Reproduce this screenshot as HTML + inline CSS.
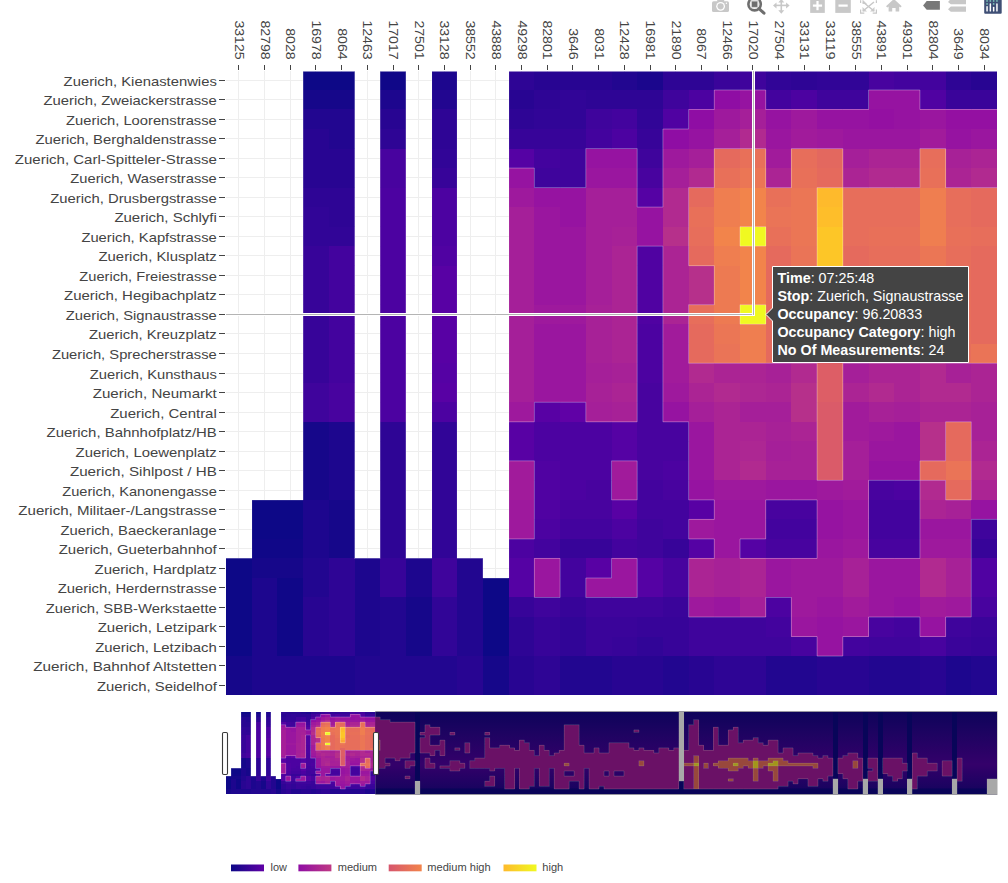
<!DOCTYPE html><html><head><meta charset="utf-8"><style>html,body{margin:0;padding:0;background:#fff;width:1008px;height:883px;overflow:hidden}svg{display:block;font-family:"Liberation Sans",sans-serif}</style></head><body>
<svg width="1008" height="883" viewBox="0 0 1008 883">
<g stroke="#eeeeee" stroke-width="1" shape-rendering="crispEdges">
<line x1="238.85" y1="71" x2="238.85" y2="694.8"/>
<line x1="264.55" y1="71" x2="264.55" y2="694.8"/>
<line x1="290.25" y1="71" x2="290.25" y2="694.8"/>
<line x1="315.95" y1="71" x2="315.95" y2="694.8"/>
<line x1="341.65" y1="71" x2="341.65" y2="694.8"/>
<line x1="367.35" y1="71" x2="367.35" y2="694.8"/>
<line x1="393.05" y1="71" x2="393.05" y2="694.8"/>
<line x1="418.75" y1="71" x2="418.75" y2="694.8"/>
<line x1="444.45" y1="71" x2="444.45" y2="694.8"/>
<line x1="470.15" y1="71" x2="470.15" y2="694.8"/>
<line x1="495.85" y1="71" x2="495.85" y2="694.8"/>
<line x1="521.55" y1="71" x2="521.55" y2="694.8"/>
<line x1="547.25" y1="71" x2="547.25" y2="694.8"/>
<line x1="572.95" y1="71" x2="572.95" y2="694.8"/>
<line x1="598.65" y1="71" x2="598.65" y2="694.8"/>
<line x1="624.35" y1="71" x2="624.35" y2="694.8"/>
<line x1="650.05" y1="71" x2="650.05" y2="694.8"/>
<line x1="675.75" y1="71" x2="675.75" y2="694.8"/>
<line x1="701.45" y1="71" x2="701.45" y2="694.8"/>
<line x1="727.15" y1="71" x2="727.15" y2="694.8"/>
<line x1="752.85" y1="71" x2="752.85" y2="694.8"/>
<line x1="778.55" y1="71" x2="778.55" y2="694.8"/>
<line x1="804.25" y1="71" x2="804.25" y2="694.8"/>
<line x1="829.95" y1="71" x2="829.95" y2="694.8"/>
<line x1="855.65" y1="71" x2="855.65" y2="694.8"/>
<line x1="881.35" y1="71" x2="881.35" y2="694.8"/>
<line x1="907.05" y1="71" x2="907.05" y2="694.8"/>
<line x1="932.75" y1="71" x2="932.75" y2="694.8"/>
<line x1="958.45" y1="71" x2="958.45" y2="694.8"/>
<line x1="984.15" y1="71" x2="984.15" y2="694.8"/>
<line x1="226.00" y1="80.21" x2="997.00" y2="80.21"/>
<line x1="226.00" y1="99.73" x2="997.00" y2="99.73"/>
<line x1="226.00" y1="119.25" x2="997.00" y2="119.25"/>
<line x1="226.00" y1="138.77" x2="997.00" y2="138.77"/>
<line x1="226.00" y1="158.29" x2="997.00" y2="158.29"/>
<line x1="226.00" y1="177.81" x2="997.00" y2="177.81"/>
<line x1="226.00" y1="197.33" x2="997.00" y2="197.33"/>
<line x1="226.00" y1="216.85" x2="997.00" y2="216.85"/>
<line x1="226.00" y1="236.37" x2="997.00" y2="236.37"/>
<line x1="226.00" y1="255.89" x2="997.00" y2="255.89"/>
<line x1="226.00" y1="275.41" x2="997.00" y2="275.41"/>
<line x1="226.00" y1="294.93" x2="997.00" y2="294.93"/>
<line x1="226.00" y1="314.45" x2="997.00" y2="314.45"/>
<line x1="226.00" y1="333.97" x2="997.00" y2="333.97"/>
<line x1="226.00" y1="353.49" x2="997.00" y2="353.49"/>
<line x1="226.00" y1="373.01" x2="997.00" y2="373.01"/>
<line x1="226.00" y1="392.53" x2="997.00" y2="392.53"/>
<line x1="226.00" y1="412.05" x2="997.00" y2="412.05"/>
<line x1="226.00" y1="431.57" x2="997.00" y2="431.57"/>
<line x1="226.00" y1="451.09" x2="997.00" y2="451.09"/>
<line x1="226.00" y1="470.61" x2="997.00" y2="470.61"/>
<line x1="226.00" y1="490.13" x2="997.00" y2="490.13"/>
<line x1="226.00" y1="509.65" x2="997.00" y2="509.65"/>
<line x1="226.00" y1="529.17" x2="997.00" y2="529.17"/>
<line x1="226.00" y1="548.69" x2="997.00" y2="548.69"/>
<line x1="226.00" y1="568.21" x2="997.00" y2="568.21"/>
<line x1="226.00" y1="587.73" x2="997.00" y2="587.73"/>
<line x1="226.00" y1="607.25" x2="997.00" y2="607.25"/>
<line x1="226.00" y1="626.77" x2="997.00" y2="626.77"/>
<line x1="226.00" y1="646.29" x2="997.00" y2="646.29"/>
<line x1="226.00" y1="665.81" x2="997.00" y2="665.81"/>
<line x1="226.00" y1="685.33" x2="997.00" y2="685.33"/>
</g>
<defs><clipPath id="pc"><rect x="226" y="71.5" width="771" height="624"/></clipPath></defs><g clip-path="url(#pc)">
<g shape-rendering="crispEdges" transform="translate(226.0,70.45) scale(25.7,19.52)">
<rect x="0" y="25" width="1" height="5" fill="#0d0887"/>
<rect x="0" y="30" width="1" height="2" fill="#16078a"/>
<rect x="1" y="22" width="1" height="2" fill="#0d0887"/>
<rect x="1" y="24" width="1" height="1" fill="#100788"/>
<rect x="1" y="25" width="1" height="1" fill="#16078a"/>
<rect x="1" y="26" width="1" height="6" fill="#1d068e"/>
<rect x="2" y="22" width="1" height="2" fill="#0d0887"/>
<rect x="2" y="24" width="1" height="1" fill="#100788"/>
<rect x="2" y="25" width="1" height="1" fill="#16078a"/>
<rect x="2" y="26" width="1" height="4" fill="#100788"/>
<rect x="2" y="30" width="1" height="2" fill="#1d068e"/>
<rect x="3" y="0" width="1" height="1" fill="#0d0887"/>
<rect x="3" y="1" width="1" height="1" fill="#16078a"/>
<rect x="3" y="2" width="1" height="1" fill="#220690"/>
<rect x="3" y="3" width="1" height="3" fill="#280592"/>
<rect x="3" y="6" width="1" height="1" fill="#2e0595"/>
<rect x="3" y="7" width="1" height="2" fill="#310597"/>
<rect x="3" y="9" width="1" height="7" fill="#370499"/>
<rect x="3" y="16" width="1" height="2" fill="#3f049c"/>
<rect x="3" y="18" width="1" height="4" fill="#16078a"/>
<rect x="3" y="22" width="1" height="3" fill="#1d068e"/>
<rect x="3" y="25" width="1" height="2" fill="#220690"/>
<rect x="3" y="27" width="1" height="3" fill="#280592"/>
<rect x="3" y="30" width="1" height="2" fill="#1d068e"/>
<rect x="4" y="0" width="1" height="1" fill="#0d0887"/>
<rect x="4" y="1" width="1" height="1" fill="#16078a"/>
<rect x="4" y="2" width="1" height="2" fill="#220690"/>
<rect x="4" y="4" width="1" height="2" fill="#280592"/>
<rect x="4" y="6" width="1" height="2" fill="#2e0595"/>
<rect x="4" y="8" width="1" height="1" fill="#310597"/>
<rect x="4" y="9" width="1" height="7" fill="#43039e"/>
<rect x="4" y="16" width="1" height="2" fill="#48039f"/>
<rect x="4" y="18" width="1" height="4" fill="#1d068e"/>
<rect x="4" y="22" width="1" height="3" fill="#16078a"/>
<rect x="4" y="25" width="1" height="5" fill="#2e0595"/>
<rect x="4" y="30" width="1" height="2" fill="#1d068e"/>
<rect x="5" y="25" width="1" height="5" fill="#1d068e"/>
<rect x="5" y="30" width="1" height="2" fill="#220690"/>
<rect x="6" y="0" width="1" height="1" fill="#100788"/>
<rect x="6" y="1" width="1" height="1" fill="#1d068e"/>
<rect x="6" y="2" width="1" height="1" fill="#280592"/>
<rect x="6" y="3" width="1" height="1" fill="#2e0595"/>
<rect x="6" y="4" width="1" height="2" fill="#48039f"/>
<rect x="6" y="6" width="1" height="12" fill="#4c02a1"/>
<rect x="6" y="18" width="1" height="7" fill="#2e0595"/>
<rect x="6" y="25" width="1" height="2" fill="#370499"/>
<rect x="6" y="27" width="1" height="5" fill="#220690"/>
<rect x="7" y="25" width="1" height="2" fill="#1d068e"/>
<rect x="7" y="27" width="1" height="3" fill="#16078a"/>
<rect x="7" y="30" width="1" height="2" fill="#220690"/>
<rect x="8" y="0" width="1" height="1" fill="#1d068e"/>
<rect x="8" y="1" width="1" height="1" fill="#220690"/>
<rect x="8" y="2" width="1" height="2" fill="#2e0595"/>
<rect x="8" y="4" width="1" height="1" fill="#310597"/>
<rect x="8" y="5" width="1" height="1" fill="#370499"/>
<rect x="8" y="6" width="1" height="3" fill="#4c02a1"/>
<rect x="8" y="9" width="1" height="1" fill="#5002a2"/>
<rect x="8" y="10" width="1" height="5" fill="#5801a4"/>
<rect x="8" y="15" width="1" height="1" fill="#5502a4"/>
<rect x="8" y="16" width="1" height="1" fill="#5801a4"/>
<rect x="8" y="17" width="1" height="1" fill="#4c02a1"/>
<rect x="8" y="18" width="1" height="7" fill="#310597"/>
<rect x="8" y="25" width="1" height="2" fill="#3f049c"/>
<rect x="8" y="27" width="1" height="3" fill="#310597"/>
<rect x="8" y="30" width="1" height="2" fill="#220690"/>
<rect x="9" y="25" width="1" height="5" fill="#220690"/>
<rect x="9" y="30" width="1" height="2" fill="#280592"/>
<rect x="10" y="26" width="1" height="4" fill="#0d0887"/>
<rect x="10" y="30" width="1" height="2" fill="#16078a"/>
<rect x="11" y="0" width="1" height="1" fill="#2e0595"/>
<rect x="11" y="1" width="1" height="1" fill="#280592"/>
<rect x="11" y="2" width="1" height="1" fill="#2e0595"/>
<rect x="11" y="3" width="1" height="1" fill="#370499"/>
<rect x="11" y="4" width="1" height="1" fill="#5502a4"/>
<rect x="11" y="5" width="1" height="1" fill="#9613a1"/>
<rect x="11" y="6" width="1" height="1" fill="#9e199d"/>
<rect x="11" y="7" width="1" height="10" fill="#a51f99"/>
<rect x="11" y="17" width="1" height="1" fill="#9e199d"/>
<rect x="11" y="18" width="1" height="2" fill="#5801a4"/>
<rect x="11" y="20" width="1" height="2" fill="#a11b9b"/>
<rect x="11" y="22" width="1" height="2" fill="#9e199d"/>
<rect x="11" y="24" width="1" height="1" fill="#4c02a1"/>
<rect x="11" y="25" width="1" height="2" fill="#5502a4"/>
<rect x="11" y="27" width="1" height="1" fill="#370499"/>
<rect x="11" y="28" width="1" height="2" fill="#2e0595"/>
<rect x="11" y="30" width="1" height="2" fill="#280592"/>
<rect x="12" y="0" width="1" height="1" fill="#280592"/>
<rect x="12" y="1" width="1" height="1" fill="#2e0595"/>
<rect x="12" y="2" width="1" height="1" fill="#310597"/>
<rect x="12" y="3" width="1" height="1" fill="#370499"/>
<rect x="12" y="4" width="1" height="1" fill="#43039e"/>
<rect x="12" y="5" width="1" height="1" fill="#3f049c"/>
<rect x="12" y="6" width="1" height="1" fill="#9613a1"/>
<rect x="12" y="7" width="1" height="5" fill="#9a169f"/>
<rect x="12" y="12" width="1" height="1" fill="#9e199d"/>
<rect x="12" y="13" width="1" height="4" fill="#9a169f"/>
<rect x="12" y="17" width="1" height="1" fill="#5801a4"/>
<rect x="12" y="18" width="1" height="2" fill="#4c02a1"/>
<rect x="12" y="20" width="1" height="3" fill="#5002a2"/>
<rect x="12" y="23" width="1" height="1" fill="#4c02a1"/>
<rect x="12" y="24" width="1" height="1" fill="#43039e"/>
<rect x="12" y="25" width="1" height="2" fill="#9a169f"/>
<rect x="12" y="27" width="1" height="1" fill="#3f049c"/>
<rect x="12" y="28" width="1" height="2" fill="#370499"/>
<rect x="12" y="30" width="1" height="2" fill="#2e0595"/>
<rect x="13" y="0" width="1" height="1" fill="#280592"/>
<rect x="13" y="1" width="1" height="2" fill="#310597"/>
<rect x="13" y="3" width="1" height="1" fill="#370499"/>
<rect x="13" y="4" width="1" height="2" fill="#3f049c"/>
<rect x="13" y="6" width="1" height="2" fill="#9613a1"/>
<rect x="13" y="8" width="1" height="4" fill="#9a169f"/>
<rect x="13" y="12" width="1" height="1" fill="#9e199d"/>
<rect x="13" y="13" width="1" height="4" fill="#9a169f"/>
<rect x="13" y="17" width="1" height="1" fill="#6001a6"/>
<rect x="13" y="18" width="1" height="4" fill="#4c02a1"/>
<rect x="13" y="22" width="1" height="1" fill="#48039f"/>
<rect x="13" y="23" width="1" height="1" fill="#43039e"/>
<rect x="13" y="24" width="1" height="1" fill="#370499"/>
<rect x="13" y="25" width="1" height="2" fill="#43039e"/>
<rect x="13" y="27" width="1" height="1" fill="#370499"/>
<rect x="13" y="28" width="1" height="2" fill="#310597"/>
<rect x="13" y="30" width="1" height="2" fill="#220690"/>
<rect x="14" y="0" width="1" height="1" fill="#280592"/>
<rect x="14" y="1" width="1" height="1" fill="#2e0595"/>
<rect x="14" y="2" width="1" height="1" fill="#3f049c"/>
<rect x="14" y="3" width="1" height="1" fill="#43039e"/>
<rect x="14" y="4" width="1" height="1" fill="#9613a1"/>
<rect x="14" y="5" width="1" height="1" fill="#9a169f"/>
<rect x="14" y="6" width="1" height="6" fill="#a51f99"/>
<rect x="14" y="12" width="1" height="3" fill="#a72197"/>
<rect x="14" y="15" width="1" height="1" fill="#a51f99"/>
<rect x="14" y="16" width="1" height="1" fill="#a72197"/>
<rect x="14" y="17" width="1" height="1" fill="#a51f99"/>
<rect x="14" y="18" width="1" height="3" fill="#4c02a1"/>
<rect x="14" y="21" width="1" height="2" fill="#48039f"/>
<rect x="14" y="23" width="1" height="1" fill="#43039e"/>
<rect x="14" y="24" width="1" height="1" fill="#370499"/>
<rect x="14" y="25" width="1" height="1" fill="#5801a4"/>
<rect x="14" y="26" width="1" height="1" fill="#9a169f"/>
<rect x="14" y="27" width="1" height="1" fill="#3f049c"/>
<rect x="14" y="28" width="1" height="2" fill="#3a049a"/>
<rect x="14" y="30" width="1" height="2" fill="#220690"/>
<rect x="15" y="0" width="1" height="1" fill="#220690"/>
<rect x="15" y="1" width="1" height="1" fill="#2e0595"/>
<rect x="15" y="2" width="1" height="1" fill="#43039e"/>
<rect x="15" y="3" width="1" height="1" fill="#4c02a1"/>
<rect x="15" y="4" width="1" height="1" fill="#9613a1"/>
<rect x="15" y="5" width="1" height="1" fill="#9a169f"/>
<rect x="15" y="6" width="1" height="2" fill="#a51f99"/>
<rect x="15" y="8" width="1" height="1" fill="#a72197"/>
<rect x="15" y="9" width="1" height="6" fill="#ab2494"/>
<rect x="15" y="15" width="1" height="1" fill="#a72197"/>
<rect x="15" y="16" width="1" height="1" fill="#ab2494"/>
<rect x="15" y="17" width="1" height="1" fill="#a72197"/>
<rect x="15" y="18" width="1" height="2" fill="#5502a4"/>
<rect x="15" y="20" width="1" height="1" fill="#a11b9b"/>
<rect x="15" y="21" width="1" height="1" fill="#9e199d"/>
<rect x="15" y="22" width="1" height="1" fill="#5801a4"/>
<rect x="15" y="23" width="1" height="1" fill="#4c02a1"/>
<rect x="15" y="24" width="1" height="1" fill="#43039e"/>
<rect x="15" y="25" width="1" height="2" fill="#9a169f"/>
<rect x="15" y="27" width="1" height="1" fill="#3f049c"/>
<rect x="15" y="28" width="1" height="1" fill="#3a049a"/>
<rect x="15" y="29" width="1" height="1" fill="#370499"/>
<rect x="15" y="30" width="1" height="2" fill="#280592"/>
<rect x="16" y="0" width="1" height="1" fill="#1b068d"/>
<rect x="16" y="1" width="1" height="1" fill="#2e0595"/>
<rect x="16" y="2" width="1" height="1" fill="#310597"/>
<rect x="16" y="3" width="1" height="1" fill="#370499"/>
<rect x="16" y="4" width="1" height="1" fill="#3f049c"/>
<rect x="16" y="5" width="1" height="1" fill="#48039f"/>
<rect x="16" y="6" width="1" height="1" fill="#5502a4"/>
<rect x="16" y="7" width="1" height="2" fill="#9613a1"/>
<rect x="16" y="9" width="1" height="4" fill="#5002a2"/>
<rect x="16" y="13" width="1" height="3" fill="#4c02a1"/>
<rect x="16" y="16" width="1" height="5" fill="#48039f"/>
<rect x="16" y="21" width="1" height="2" fill="#43039e"/>
<rect x="16" y="23" width="1" height="2" fill="#3f049c"/>
<rect x="16" y="25" width="1" height="2" fill="#5502a4"/>
<rect x="16" y="27" width="1" height="1" fill="#3f049c"/>
<rect x="16" y="28" width="1" height="1" fill="#370499"/>
<rect x="16" y="29" width="1" height="1" fill="#310597"/>
<rect x="16" y="30" width="1" height="2" fill="#280592"/>
<rect x="17" y="0" width="1" height="1" fill="#2e0595"/>
<rect x="17" y="1" width="1" height="1" fill="#3f049c"/>
<rect x="17" y="2" width="1" height="1" fill="#5002a2"/>
<rect x="17" y="3" width="1" height="1" fill="#8f0da4"/>
<rect x="17" y="4" width="1" height="1" fill="#9e199d"/>
<rect x="17" y="5" width="1" height="1" fill="#a51f99"/>
<rect x="17" y="6" width="1" height="2" fill="#b12a90"/>
<rect x="17" y="8" width="1" height="1" fill="#b6308b"/>
<rect x="17" y="9" width="1" height="4" fill="#ab2494"/>
<rect x="17" y="13" width="1" height="3" fill="#a11b9b"/>
<rect x="17" y="16" width="1" height="1" fill="#9e199d"/>
<rect x="17" y="17" width="1" height="1" fill="#9613a1"/>
<rect x="17" y="18" width="1" height="2" fill="#48039f"/>
<rect x="17" y="20" width="1" height="1" fill="#4c02a1"/>
<rect x="17" y="21" width="1" height="1" fill="#48039f"/>
<rect x="17" y="22" width="1" height="2" fill="#43039e"/>
<rect x="17" y="24" width="1" height="1" fill="#370499"/>
<rect x="17" y="25" width="1" height="2" fill="#48039f"/>
<rect x="17" y="27" width="1" height="1" fill="#3a049a"/>
<rect x="17" y="28" width="1" height="2" fill="#370499"/>
<rect x="17" y="30" width="1" height="2" fill="#220690"/>
<rect x="18" y="0" width="1" height="1" fill="#2e0595"/>
<rect x="18" y="1" width="1" height="1" fill="#4c02a1"/>
<rect x="18" y="2" width="1" height="1" fill="#8f0da4"/>
<rect x="18" y="3" width="1" height="1" fill="#9613a1"/>
<rect x="18" y="4" width="1" height="1" fill="#a51f99"/>
<rect x="18" y="5" width="1" height="1" fill="#b12a90"/>
<rect x="18" y="6" width="1" height="1" fill="#e56a5d"/>
<rect x="18" y="7" width="1" height="1" fill="#e87059"/>
<rect x="18" y="8" width="1" height="1" fill="#e76e5b"/>
<rect x="18" y="9" width="1" height="1" fill="#e56a5d"/>
<rect x="18" y="10" width="1" height="2" fill="#b6308b"/>
<rect x="18" y="12" width="1" height="1" fill="#e76e5b"/>
<rect x="18" y="13" width="1" height="2" fill="#e56a5d"/>
<rect x="18" y="15" width="1" height="1" fill="#b12a90"/>
<rect x="18" y="16" width="1" height="1" fill="#ab2494"/>
<rect x="18" y="17" width="1" height="1" fill="#a51f99"/>
<rect x="18" y="18" width="1" height="3" fill="#9a169f"/>
<rect x="18" y="21" width="1" height="1" fill="#9613a1"/>
<rect x="18" y="22" width="1" height="1" fill="#5801a4"/>
<rect x="18" y="23" width="1" height="1" fill="#9e199d"/>
<rect x="18" y="24" width="1" height="1" fill="#5502a4"/>
<rect x="18" y="25" width="1" height="2" fill="#ab2494"/>
<rect x="18" y="27" width="1" height="1" fill="#9e199d"/>
<rect x="18" y="28" width="1" height="2" fill="#3f049c"/>
<rect x="18" y="30" width="1" height="2" fill="#280592"/>
<rect x="19" y="0" width="1" height="1" fill="#3a049a"/>
<rect x="19" y="1" width="1" height="1" fill="#8f0da4"/>
<rect x="19" y="2" width="1" height="1" fill="#9e199d"/>
<rect x="19" y="3" width="1" height="1" fill="#a51f99"/>
<rect x="19" y="4" width="1" height="1" fill="#e56a5d"/>
<rect x="19" y="5" width="1" height="1" fill="#e87059"/>
<rect x="19" y="6" width="1" height="2" fill="#ef7e50"/>
<rect x="19" y="8" width="1" height="1" fill="#f2844b"/>
<rect x="19" y="9" width="1" height="1" fill="#ef7e50"/>
<rect x="19" y="10" width="1" height="3" fill="#ed7a52"/>
<rect x="19" y="13" width="1" height="1" fill="#eb7655"/>
<rect x="19" y="14" width="1" height="1" fill="#ea7457"/>
<rect x="19" y="15" width="1" height="1" fill="#ab2494"/>
<rect x="19" y="16" width="1" height="1" fill="#b12a90"/>
<rect x="19" y="17" width="1" height="4" fill="#ab2494"/>
<rect x="19" y="21" width="1" height="1" fill="#9e199d"/>
<rect x="19" y="22" width="1" height="3" fill="#9a169f"/>
<rect x="19" y="25" width="1" height="2" fill="#a72197"/>
<rect x="19" y="27" width="1" height="1" fill="#9a169f"/>
<rect x="19" y="28" width="1" height="2" fill="#3f049c"/>
<rect x="19" y="30" width="1" height="2" fill="#2e0595"/>
<rect x="20" y="0" width="1" height="1" fill="#3f049c"/>
<rect x="20" y="1" width="1" height="1" fill="#9613a1"/>
<rect x="20" y="2" width="1" height="1" fill="#a51f99"/>
<rect x="20" y="3" width="1" height="1" fill="#b12a90"/>
<rect x="20" y="4" width="1" height="1" fill="#e87059"/>
<rect x="20" y="5" width="1" height="1" fill="#eb7655"/>
<rect x="20" y="6" width="1" height="2" fill="#f2844b"/>
<rect x="20" y="8" width="1" height="1" fill="#f0f921"/>
<rect x="20" y="9" width="1" height="3" fill="#f2844b"/>
<rect x="20" y="12" width="1" height="1" fill="#f0f921"/>
<rect x="20" y="13" width="1" height="2" fill="#ef7e50"/>
<rect x="20" y="15" width="1" height="1" fill="#ab2494"/>
<rect x="20" y="16" width="1" height="1" fill="#ad2793"/>
<rect x="20" y="17" width="1" height="1" fill="#a51f99"/>
<rect x="20" y="18" width="1" height="1" fill="#ab2494"/>
<rect x="20" y="19" width="1" height="1" fill="#ad2793"/>
<rect x="20" y="20" width="1" height="1" fill="#b12a90"/>
<rect x="20" y="21" width="1" height="1" fill="#9e199d"/>
<rect x="20" y="22" width="1" height="2" fill="#9a169f"/>
<rect x="20" y="24" width="1" height="1" fill="#5502a4"/>
<rect x="20" y="25" width="1" height="2" fill="#ab2494"/>
<rect x="20" y="27" width="1" height="1" fill="#a51f99"/>
<rect x="20" y="28" width="1" height="2" fill="#3f049c"/>
<rect x="20" y="30" width="1" height="2" fill="#2e0595"/>
<rect x="21" y="0" width="1" height="1" fill="#310597"/>
<rect x="21" y="1" width="1" height="1" fill="#43039e"/>
<rect x="21" y="2" width="1" height="1" fill="#9613a1"/>
<rect x="21" y="3" width="1" height="1" fill="#9a169f"/>
<rect x="21" y="4" width="1" height="1" fill="#a11b9b"/>
<rect x="21" y="5" width="1" height="1" fill="#ab2494"/>
<rect x="21" y="6" width="1" height="1" fill="#e87059"/>
<rect x="21" y="7" width="1" height="1" fill="#ea7457"/>
<rect x="21" y="8" width="1" height="1" fill="#e87059"/>
<rect x="21" y="9" width="1" height="6" fill="#e56a5d"/>
<rect x="21" y="15" width="1" height="1" fill="#a72197"/>
<rect x="21" y="16" width="1" height="1" fill="#ab2494"/>
<rect x="21" y="17" width="1" height="1" fill="#a51f99"/>
<rect x="21" y="18" width="1" height="1" fill="#a72197"/>
<rect x="21" y="19" width="1" height="1" fill="#a51f99"/>
<rect x="21" y="20" width="1" height="1" fill="#a72197"/>
<rect x="21" y="21" width="1" height="1" fill="#9a169f"/>
<rect x="21" y="22" width="1" height="1" fill="#48039f"/>
<rect x="21" y="23" width="1" height="1" fill="#43039e"/>
<rect x="21" y="24" width="1" height="1" fill="#48039f"/>
<rect x="21" y="25" width="1" height="2" fill="#9a169f"/>
<rect x="21" y="27" width="1" height="1" fill="#4c02a1"/>
<rect x="21" y="28" width="1" height="1" fill="#43039e"/>
<rect x="21" y="29" width="1" height="1" fill="#3f049c"/>
<rect x="21" y="30" width="1" height="2" fill="#220690"/>
<rect x="22" y="0" width="1" height="1" fill="#2e0595"/>
<rect x="22" y="1" width="1" height="1" fill="#4c02a1"/>
<rect x="22" y="2" width="1" height="1" fill="#9e199d"/>
<rect x="22" y="3" width="1" height="1" fill="#a11b9b"/>
<rect x="22" y="4" width="1" height="1" fill="#e76e5b"/>
<rect x="22" y="5" width="1" height="1" fill="#e87059"/>
<rect x="22" y="6" width="1" height="3" fill="#eb7655"/>
<rect x="22" y="9" width="1" height="1" fill="#ea7457"/>
<rect x="22" y="10" width="1" height="5" fill="#e87059"/>
<rect x="22" y="15" width="1" height="1" fill="#b12a90"/>
<rect x="22" y="16" width="1" height="2" fill="#b6308b"/>
<rect x="22" y="18" width="1" height="1" fill="#ab2494"/>
<rect x="22" y="19" width="1" height="2" fill="#a72197"/>
<rect x="22" y="21" width="1" height="1" fill="#9a169f"/>
<rect x="22" y="22" width="1" height="1" fill="#48039f"/>
<rect x="22" y="23" width="1" height="1" fill="#43039e"/>
<rect x="22" y="24" width="1" height="1" fill="#48039f"/>
<rect x="22" y="25" width="1" height="3" fill="#9e199d"/>
<rect x="22" y="28" width="1" height="1" fill="#9a169f"/>
<rect x="22" y="29" width="1" height="1" fill="#48039f"/>
<rect x="22" y="30" width="1" height="2" fill="#220690"/>
<rect x="23" y="0" width="1" height="1" fill="#310597"/>
<rect x="23" y="1" width="1" height="1" fill="#3f049c"/>
<rect x="23" y="2" width="1" height="1" fill="#9613a1"/>
<rect x="23" y="3" width="1" height="1" fill="#9e199d"/>
<rect x="23" y="4" width="1" height="1" fill="#e3685f"/>
<rect x="23" y="5" width="1" height="1" fill="#e56a5d"/>
<rect x="23" y="6" width="1" height="1" fill="#feba2c"/>
<rect x="23" y="7" width="1" height="1" fill="#febe2a"/>
<rect x="23" y="8" width="1" height="2" fill="#fdc627"/>
<rect x="23" y="10" width="1" height="1" fill="#feb72d"/>
<rect x="23" y="11" width="1" height="1" fill="#fca636"/>
<rect x="23" y="12" width="1" height="1" fill="#eb7655"/>
<rect x="23" y="13" width="1" height="1" fill="#e87059"/>
<rect x="23" y="14" width="1" height="1" fill="#e16462"/>
<rect x="23" y="15" width="1" height="2" fill="#dd5e66"/>
<rect x="23" y="17" width="1" height="4" fill="#da5b69"/>
<rect x="23" y="21" width="1" height="1" fill="#9e199d"/>
<rect x="23" y="22" width="1" height="2" fill="#9613a1"/>
<rect x="23" y="24" width="1" height="1" fill="#9a169f"/>
<rect x="23" y="25" width="1" height="2" fill="#9e199d"/>
<rect x="23" y="27" width="1" height="1" fill="#9a169f"/>
<rect x="23" y="28" width="1" height="2" fill="#9613a1"/>
<rect x="23" y="30" width="1" height="2" fill="#280592"/>
<rect x="24" y="0" width="1" height="1" fill="#310597"/>
<rect x="24" y="1" width="1" height="1" fill="#3f049c"/>
<rect x="24" y="2" width="1" height="1" fill="#9613a1"/>
<rect x="24" y="3" width="1" height="1" fill="#9a169f"/>
<rect x="24" y="4" width="1" height="1" fill="#a51f99"/>
<rect x="24" y="5" width="1" height="1" fill="#ab2494"/>
<rect x="24" y="6" width="1" height="3" fill="#e76e5b"/>
<rect x="24" y="9" width="1" height="1" fill="#e56a5d"/>
<rect x="24" y="10" width="1" height="5" fill="#e76e5b"/>
<rect x="24" y="15" width="1" height="1" fill="#a51f99"/>
<rect x="24" y="16" width="1" height="1" fill="#ab2494"/>
<rect x="24" y="17" width="1" height="2" fill="#a11b9b"/>
<rect x="24" y="19" width="1" height="2" fill="#a51f99"/>
<rect x="24" y="21" width="1" height="1" fill="#a11b9b"/>
<rect x="24" y="22" width="1" height="2" fill="#9a169f"/>
<rect x="24" y="24" width="1" height="1" fill="#9e199d"/>
<rect x="24" y="25" width="1" height="2" fill="#a72197"/>
<rect x="24" y="27" width="1" height="1" fill="#a11b9b"/>
<rect x="24" y="28" width="1" height="1" fill="#9a169f"/>
<rect x="24" y="29" width="1" height="1" fill="#43039e"/>
<rect x="24" y="30" width="1" height="2" fill="#280592"/>
<rect x="25" y="0" width="1" height="1" fill="#48039f"/>
<rect x="25" y="1" width="1" height="1" fill="#9613a1"/>
<rect x="25" y="2" width="1" height="1" fill="#9410a2"/>
<rect x="25" y="3" width="1" height="1" fill="#9a169f"/>
<rect x="25" y="4" width="1" height="1" fill="#ab2494"/>
<rect x="25" y="5" width="1" height="1" fill="#b12a90"/>
<rect x="25" y="6" width="1" height="2" fill="#e76e5b"/>
<rect x="25" y="8" width="1" height="1" fill="#e87059"/>
<rect x="25" y="9" width="1" height="6" fill="#e76e5b"/>
<rect x="25" y="15" width="1" height="1" fill="#ab2494"/>
<rect x="25" y="16" width="1" height="1" fill="#b12a90"/>
<rect x="25" y="17" width="1" height="1" fill="#a72197"/>
<rect x="25" y="18" width="1" height="1" fill="#9e199d"/>
<rect x="25" y="19" width="1" height="1" fill="#9a169f"/>
<rect x="25" y="20" width="1" height="1" fill="#9613a1"/>
<rect x="25" y="21" width="1" height="1" fill="#48039f"/>
<rect x="25" y="22" width="1" height="2" fill="#43039e"/>
<rect x="25" y="24" width="1" height="1" fill="#48039f"/>
<rect x="25" y="25" width="1" height="3" fill="#9a169f"/>
<rect x="25" y="28" width="1" height="1" fill="#48039f"/>
<rect x="25" y="29" width="1" height="1" fill="#3f049c"/>
<rect x="25" y="30" width="1" height="2" fill="#220690"/>
<rect x="26" y="0" width="1" height="1" fill="#43039e"/>
<rect x="26" y="1" width="1" height="2" fill="#9613a1"/>
<rect x="26" y="3" width="1" height="1" fill="#9a169f"/>
<rect x="26" y="4" width="1" height="1" fill="#ab2494"/>
<rect x="26" y="5" width="1" height="1" fill="#b12a90"/>
<rect x="26" y="6" width="1" height="2" fill="#e76e5b"/>
<rect x="26" y="8" width="1" height="1" fill="#e87059"/>
<rect x="26" y="9" width="1" height="6" fill="#e76e5b"/>
<rect x="26" y="15" width="1" height="2" fill="#ab2494"/>
<rect x="26" y="17" width="1" height="1" fill="#a51f99"/>
<rect x="26" y="18" width="1" height="2" fill="#9a169f"/>
<rect x="26" y="20" width="1" height="1" fill="#9613a1"/>
<rect x="26" y="21" width="1" height="1" fill="#4c02a1"/>
<rect x="26" y="22" width="1" height="2" fill="#43039e"/>
<rect x="26" y="24" width="1" height="1" fill="#48039f"/>
<rect x="26" y="25" width="1" height="2" fill="#9a169f"/>
<rect x="26" y="27" width="1" height="1" fill="#9613a1"/>
<rect x="26" y="28" width="1" height="1" fill="#43039e"/>
<rect x="26" y="29" width="1" height="1" fill="#3f049c"/>
<rect x="26" y="30" width="1" height="2" fill="#220690"/>
<rect x="27" y="0" width="1" height="1" fill="#43039e"/>
<rect x="27" y="1" width="1" height="1" fill="#5002a2"/>
<rect x="27" y="2" width="1" height="1" fill="#9a169f"/>
<rect x="27" y="3" width="1" height="1" fill="#a11b9b"/>
<rect x="27" y="4" width="1" height="1" fill="#e76e5b"/>
<rect x="27" y="5" width="1" height="1" fill="#e87059"/>
<rect x="27" y="6" width="1" height="3" fill="#ef7e50"/>
<rect x="27" y="9" width="1" height="6" fill="#eb7655"/>
<rect x="27" y="15" width="1" height="2" fill="#b12a90"/>
<rect x="27" y="17" width="1" height="1" fill="#ab2494"/>
<rect x="27" y="18" width="1" height="2" fill="#b6308b"/>
<rect x="27" y="20" width="1" height="1" fill="#e56a5d"/>
<rect x="27" y="21" width="1" height="1" fill="#b12a90"/>
<rect x="27" y="22" width="1" height="1" fill="#ab2494"/>
<rect x="27" y="23" width="1" height="1" fill="#9a169f"/>
<rect x="27" y="24" width="1" height="1" fill="#9e199d"/>
<rect x="27" y="25" width="1" height="2" fill="#b12a90"/>
<rect x="27" y="27" width="1" height="1" fill="#a11b9b"/>
<rect x="27" y="28" width="1" height="1" fill="#9613a1"/>
<rect x="27" y="29" width="1" height="1" fill="#48039f"/>
<rect x="27" y="30" width="1" height="2" fill="#280592"/>
<rect x="28" y="0" width="1" height="1" fill="#2e0595"/>
<rect x="28" y="1" width="1" height="1" fill="#3a049a"/>
<rect x="28" y="2" width="1" height="1" fill="#9410a2"/>
<rect x="28" y="3" width="1" height="1" fill="#9613a1"/>
<rect x="28" y="4" width="1" height="1" fill="#a72197"/>
<rect x="28" y="5" width="1" height="1" fill="#ab2494"/>
<rect x="28" y="6" width="1" height="2" fill="#e76e5b"/>
<rect x="28" y="8" width="1" height="1" fill="#e87059"/>
<rect x="28" y="9" width="1" height="6" fill="#e76e5b"/>
<rect x="28" y="15" width="1" height="1" fill="#a72197"/>
<rect x="28" y="16" width="1" height="1" fill="#b12a90"/>
<rect x="28" y="17" width="1" height="1" fill="#ab2494"/>
<rect x="28" y="18" width="1" height="2" fill="#e56a5d"/>
<rect x="28" y="20" width="1" height="1" fill="#ea7457"/>
<rect x="28" y="21" width="1" height="1" fill="#e56a5d"/>
<rect x="28" y="22" width="1" height="1" fill="#a72197"/>
<rect x="28" y="23" width="1" height="1" fill="#9a169f"/>
<rect x="28" y="24" width="1" height="1" fill="#9e199d"/>
<rect x="28" y="25" width="1" height="2" fill="#a72197"/>
<rect x="28" y="27" width="1" height="1" fill="#9e199d"/>
<rect x="28" y="28" width="1" height="1" fill="#3f049c"/>
<rect x="28" y="29" width="1" height="1" fill="#3a049a"/>
<rect x="28" y="30" width="1" height="2" fill="#1d068e"/>
<rect x="29" y="0" width="1" height="1" fill="#280592"/>
<rect x="29" y="1" width="1" height="1" fill="#3a049a"/>
<rect x="29" y="2" width="1" height="1" fill="#9410a2"/>
<rect x="29" y="3" width="1" height="1" fill="#9a169f"/>
<rect x="29" y="4" width="1" height="1" fill="#ab2494"/>
<rect x="29" y="5" width="1" height="1" fill="#b12a90"/>
<rect x="29" y="6" width="1" height="2" fill="#e56a5d"/>
<rect x="29" y="8" width="1" height="1" fill="#e76e5b"/>
<rect x="29" y="9" width="1" height="5" fill="#e56a5d"/>
<rect x="29" y="14" width="1" height="1" fill="#ea7457"/>
<rect x="29" y="15" width="1" height="2" fill="#ab2494"/>
<rect x="29" y="17" width="1" height="2" fill="#a72197"/>
<rect x="29" y="19" width="1" height="1" fill="#ab2494"/>
<rect x="29" y="20" width="1" height="1" fill="#b12a90"/>
<rect x="29" y="21" width="1" height="1" fill="#ab2494"/>
<rect x="29" y="22" width="1" height="1" fill="#9613a1"/>
<rect x="29" y="23" width="1" height="1" fill="#3f049c"/>
<rect x="29" y="24" width="1" height="1" fill="#370499"/>
<rect x="29" y="25" width="1" height="2" fill="#5002a2"/>
<rect x="29" y="27" width="1" height="1" fill="#48039f"/>
<rect x="29" y="28" width="1" height="1" fill="#3a049a"/>
<rect x="29" y="29" width="1" height="1" fill="#370499"/>
<rect x="29" y="30" width="1" height="2" fill="#220690"/>
</g>
<path d="M303.10,70.45V89.97M354.50,70.45V89.97M380.20,70.45V89.97M405.90,70.45V89.97M431.60,70.45V89.97M457.30,70.45V89.97M508.70,70.45V89.97M714.30,89.97H740.00M740.00,89.97H765.70M868.50,89.97H894.20M894.20,89.97H919.90M303.10,89.97V109.49M354.50,89.97V109.49M380.20,89.97V109.49M405.90,89.97V109.49M431.60,89.97V109.49M457.30,89.97V109.49M508.70,89.97V109.49M714.30,89.97V109.49M688.60,109.49H714.30M765.70,89.97V109.49M765.70,109.49H791.40M791.40,109.49H817.10M817.10,109.49H842.80M868.50,89.97V109.49M842.80,109.49H868.50M919.90,89.97V109.49M919.90,109.49H945.60M945.60,109.49H971.30M971.30,109.49H997.00M303.10,109.49V129.01M354.50,109.49V129.01M380.20,109.49V129.01M405.90,109.49V129.01M431.60,109.49V129.01M457.30,109.49V129.01M508.70,109.49V129.01M688.60,109.49V129.01M662.90,129.01H688.60M303.10,129.01V148.53M354.50,129.01V148.53M380.20,129.01V148.53M405.90,129.01V148.53M431.60,129.01V148.53M457.30,129.01V148.53M508.70,129.01V148.53M585.80,148.53H611.50M611.50,148.53H637.20M662.90,129.01V148.53M714.30,148.53H740.00M740.00,148.53H765.70M791.40,148.53H817.10M817.10,148.53H842.80M919.90,148.53H945.60M303.10,148.53V168.05M354.50,148.53V168.05M380.20,148.53V168.05M405.90,148.53V168.05M431.60,148.53V168.05M457.30,148.53V168.05M508.70,148.53V168.05M508.70,168.05H534.40M585.80,148.53V168.05M637.20,148.53V168.05M662.90,148.53V168.05M714.30,148.53V168.05M765.70,148.53V168.05M791.40,148.53V168.05M842.80,148.53V168.05M919.90,148.53V168.05M945.60,148.53V168.05M303.10,168.05V187.57M354.50,168.05V187.57M380.20,168.05V187.57M405.90,168.05V187.57M431.60,168.05V187.57M457.30,168.05V187.57M508.70,168.05V187.57M534.40,168.05V187.57M534.40,187.57H560.10M585.80,168.05V187.57M560.10,187.57H585.80M637.20,168.05V187.57M662.90,168.05V187.57M714.30,168.05V187.57M688.60,187.57H714.30M765.70,168.05V187.57M791.40,168.05V187.57M765.70,187.57H791.40M842.80,168.05V187.57M817.10,187.57H842.80M842.80,187.57H868.50M868.50,187.57H894.20M919.90,168.05V187.57M894.20,187.57H919.90M945.60,168.05V187.57M945.60,187.57H971.30M971.30,187.57H997.00M303.10,187.57V207.09M354.50,187.57V207.09M380.20,187.57V207.09M405.90,187.57V207.09M431.60,187.57V207.09M457.30,187.57V207.09M508.70,187.57V207.09M637.20,187.57V207.09M662.90,187.57V207.09M637.20,207.09H662.90M688.60,187.57V207.09M817.10,187.57V207.09M842.80,187.57V207.09M303.10,207.09V226.61M354.50,207.09V226.61M380.20,207.09V226.61M405.90,207.09V226.61M431.60,207.09V226.61M457.30,207.09V226.61M508.70,207.09V226.61M688.60,207.09V226.61M740.00,226.61H765.70M817.10,207.09V226.61M842.80,207.09V226.61M303.10,226.61V246.13M354.50,226.61V246.13M380.20,226.61V246.13M405.90,226.61V246.13M431.60,226.61V246.13M457.30,226.61V246.13M508.70,226.61V246.13M637.20,246.13H662.90M688.60,226.61V246.13M740.00,226.61V246.13M765.70,226.61V246.13M740.00,246.13H765.70M817.10,226.61V246.13M842.80,226.61V246.13M303.10,246.13V265.65M354.50,246.13V265.65M380.20,246.13V265.65M405.90,246.13V265.65M431.60,246.13V265.65M457.30,246.13V265.65M508.70,246.13V265.65M637.20,246.13V265.65M662.90,246.13V265.65M688.60,246.13V265.65M688.60,265.65H714.30M817.10,246.13V265.65M842.80,246.13V265.65M303.10,265.65V285.17M354.50,265.65V285.17M380.20,265.65V285.17M405.90,265.65V285.17M431.60,265.65V285.17M457.30,265.65V285.17M508.70,265.65V285.17M637.20,265.65V285.17M662.90,265.65V285.17M714.30,265.65V285.17M817.10,265.65V285.17M842.80,265.65V285.17M303.10,285.17V304.69M354.50,285.17V304.69M380.20,285.17V304.69M405.90,285.17V304.69M431.60,285.17V304.69M457.30,285.17V304.69M508.70,285.17V304.69M637.20,285.17V304.69M662.90,285.17V304.69M714.30,285.17V304.69M688.60,304.69H714.30M740.00,304.69H765.70M817.10,285.17V304.69M842.80,285.17V304.69M817.10,304.69H842.80M303.10,304.69V324.21M354.50,304.69V324.21M380.20,304.69V324.21M405.90,304.69V324.21M431.60,304.69V324.21M457.30,304.69V324.21M508.70,304.69V324.21M637.20,304.69V324.21M662.90,304.69V324.21M688.60,304.69V324.21M740.00,304.69V324.21M765.70,304.69V324.21M740.00,324.21H765.70M303.10,324.21V343.73M354.50,324.21V343.73M380.20,324.21V343.73M405.90,324.21V343.73M431.60,324.21V343.73M457.30,324.21V343.73M508.70,324.21V343.73M637.20,324.21V343.73M662.90,324.21V343.73M688.60,324.21V343.73M303.10,343.73V363.25M354.50,343.73V363.25M380.20,343.73V363.25M405.90,343.73V363.25M431.60,343.73V363.25M457.30,343.73V363.25M508.70,343.73V363.25M637.20,343.73V363.25M662.90,343.73V363.25M688.60,343.73V363.25M688.60,363.25H714.30M714.30,363.25H740.00M740.00,363.25H765.70M765.70,363.25H791.40M791.40,363.25H817.10M842.80,363.25H868.50M868.50,363.25H894.20M894.20,363.25H919.90M919.90,363.25H945.60M945.60,363.25H971.30M971.30,363.25H997.00M303.10,363.25V382.77M354.50,363.25V382.77M380.20,363.25V382.77M405.90,363.25V382.77M431.60,363.25V382.77M457.30,363.25V382.77M508.70,363.25V382.77M637.20,363.25V382.77M662.90,363.25V382.77M817.10,363.25V382.77M842.80,363.25V382.77M303.10,382.77V402.29M354.50,382.77V402.29M380.20,382.77V402.29M405.90,382.77V402.29M431.60,382.77V402.29M457.30,382.77V402.29M508.70,382.77V402.29M534.40,402.29H560.10M560.10,402.29H585.80M637.20,382.77V402.29M662.90,382.77V402.29M817.10,382.77V402.29M842.80,382.77V402.29M303.10,402.29V421.81M354.50,402.29V421.81M380.20,402.29V421.81M405.90,402.29V421.81M431.60,402.29V421.81M457.30,402.29V421.81M508.70,402.29V421.81M534.40,402.29V421.81M508.70,421.81H534.40M585.80,402.29V421.81M585.80,421.81H611.50M637.20,402.29V421.81M611.50,421.81H637.20M662.90,402.29V421.81M662.90,421.81H688.60M817.10,402.29V421.81M842.80,402.29V421.81M945.60,421.81H971.30M303.10,421.81V441.33M354.50,421.81V441.33M380.20,421.81V441.33M405.90,421.81V441.33M431.60,421.81V441.33M457.30,421.81V441.33M508.70,421.81V441.33M688.60,421.81V441.33M817.10,421.81V441.33M842.80,421.81V441.33M945.60,421.81V441.33M971.30,421.81V441.33M303.10,441.33V460.85M354.50,441.33V460.85M380.20,441.33V460.85M405.90,441.33V460.85M431.60,441.33V460.85M457.30,441.33V460.85M508.70,441.33V460.85M508.70,460.85H534.40M611.50,460.85H637.20M688.60,441.33V460.85M817.10,441.33V460.85M842.80,441.33V460.85M945.60,441.33V460.85M919.90,460.85H945.60M971.30,441.33V460.85M303.10,460.85V480.37M354.50,460.85V480.37M380.20,460.85V480.37M405.90,460.85V480.37M431.60,460.85V480.37M457.30,460.85V480.37M508.70,460.85V480.37M534.40,460.85V480.37M611.50,460.85V480.37M637.20,460.85V480.37M688.60,460.85V480.37M817.10,460.85V480.37M842.80,460.85V480.37M817.10,480.37H842.80M868.50,480.37H894.20M919.90,460.85V480.37M894.20,480.37H919.90M919.90,480.37H945.60M971.30,460.85V480.37M251.70,499.89H277.40M303.10,480.37V499.89M277.40,499.89H303.10M354.50,480.37V499.89M380.20,480.37V499.89M405.90,480.37V499.89M431.60,480.37V499.89M457.30,480.37V499.89M508.70,480.37V499.89M534.40,480.37V499.89M611.50,480.37V499.89M637.20,480.37V499.89M611.50,499.89H637.20M688.60,480.37V499.89M688.60,499.89H714.30M765.70,499.89H791.40M791.40,499.89H817.10M868.50,480.37V499.89M919.90,480.37V499.89M945.60,480.37V499.89M971.30,480.37V499.89M945.60,499.89H971.30M251.70,499.89V519.41M354.50,499.89V519.41M380.20,499.89V519.41M405.90,499.89V519.41M431.60,499.89V519.41M457.30,499.89V519.41M508.70,499.89V519.41M534.40,499.89V519.41M714.30,499.89V519.41M688.60,519.41H714.30M765.70,499.89V519.41M817.10,499.89V519.41M868.50,499.89V519.41M919.90,499.89V519.41M971.30,519.41H997.00M251.70,519.41V538.93M354.50,519.41V538.93M380.20,519.41V538.93M405.90,519.41V538.93M431.60,519.41V538.93M457.30,519.41V538.93M508.70,519.41V538.93M534.40,519.41V538.93M508.70,538.93H534.40M688.60,519.41V538.93M688.60,538.93H714.30M765.70,519.41V538.93M740.00,538.93H765.70M817.10,519.41V538.93M868.50,519.41V538.93M919.90,519.41V538.93M971.30,519.41V538.93M251.70,538.93V558.45M226.00,558.45H251.70M354.50,538.93V558.45M380.20,538.93V558.45M354.50,558.45H380.20M405.90,538.93V558.45M431.60,538.93V558.45M405.90,558.45H431.60M457.30,538.93V558.45M457.30,558.45H483.00M508.70,538.93V558.45M534.40,558.45H560.10M611.50,558.45H637.20M714.30,538.93V558.45M688.60,558.45H714.30M740.00,538.93V558.45M740.00,558.45H765.70M765.70,558.45H791.40M817.10,538.93V558.45M791.40,558.45H817.10M868.50,538.93V558.45M868.50,558.45H894.20M919.90,538.93V558.45M894.20,558.45H919.90M971.30,538.93V558.45M483.00,558.45V577.97M508.70,558.45V577.97M483.00,577.97H508.70M534.40,558.45V577.97M560.10,558.45V577.97M611.50,558.45V577.97M585.80,577.97H611.50M637.20,558.45V577.97M688.60,558.45V577.97M971.30,558.45V577.97M534.40,577.97V597.49M560.10,577.97V597.49M534.40,597.49H560.10M585.80,577.97V597.49M585.80,597.49H611.50M637.20,577.97V597.49M611.50,597.49H637.20M688.60,577.97V597.49M765.70,597.49H791.40M971.30,577.97V597.49M688.60,597.49V617.01M688.60,617.01H714.30M714.30,617.01H740.00M765.70,597.49V617.01M740.00,617.01H765.70M791.40,597.49V617.01M868.50,617.01H894.20M894.20,617.01H919.90M971.30,597.49V617.01M945.60,617.01H971.30M791.40,617.01V636.53M791.40,636.53H817.10M868.50,617.01V636.53M842.80,636.53H868.50M919.90,617.01V636.53M945.60,617.01V636.53M919.90,636.53H945.60M817.10,636.53V656.05M842.80,636.53V656.05M817.10,656.05H842.80" fill="none" stroke="#fff" stroke-opacity="0.3" stroke-width="1"/>
</g>
<g stroke="#444" stroke-width="1" shape-rendering="crispEdges">
<line x1="219" y1="80.50" x2="225" y2="80.50"/>
<line x1="219" y1="99.50" x2="225" y2="99.50"/>
<line x1="219" y1="119.50" x2="225" y2="119.50"/>
<line x1="219" y1="138.50" x2="225" y2="138.50"/>
<line x1="219" y1="158.50" x2="225" y2="158.50"/>
<line x1="219" y1="177.50" x2="225" y2="177.50"/>
<line x1="219" y1="197.50" x2="225" y2="197.50"/>
<line x1="219" y1="216.50" x2="225" y2="216.50"/>
<line x1="219" y1="236.50" x2="225" y2="236.50"/>
<line x1="219" y1="255.50" x2="225" y2="255.50"/>
<line x1="219" y1="275.50" x2="225" y2="275.50"/>
<line x1="219" y1="294.50" x2="225" y2="294.50"/>
<line x1="219" y1="314.50" x2="225" y2="314.50"/>
<line x1="219" y1="333.50" x2="225" y2="333.50"/>
<line x1="219" y1="353.50" x2="225" y2="353.50"/>
<line x1="219" y1="373.50" x2="225" y2="373.50"/>
<line x1="219" y1="392.50" x2="225" y2="392.50"/>
<line x1="219" y1="412.50" x2="225" y2="412.50"/>
<line x1="219" y1="431.50" x2="225" y2="431.50"/>
<line x1="219" y1="451.50" x2="225" y2="451.50"/>
<line x1="219" y1="470.50" x2="225" y2="470.50"/>
<line x1="219" y1="490.50" x2="225" y2="490.50"/>
<line x1="219" y1="509.50" x2="225" y2="509.50"/>
<line x1="219" y1="529.50" x2="225" y2="529.50"/>
<line x1="219" y1="548.50" x2="225" y2="548.50"/>
<line x1="219" y1="568.50" x2="225" y2="568.50"/>
<line x1="219" y1="587.50" x2="225" y2="587.50"/>
<line x1="219" y1="607.50" x2="225" y2="607.50"/>
<line x1="219" y1="626.50" x2="225" y2="626.50"/>
<line x1="219" y1="646.50" x2="225" y2="646.50"/>
<line x1="219" y1="665.50" x2="225" y2="665.50"/>
<line x1="219" y1="685.50" x2="225" y2="685.50"/>
<line x1="238.50" y1="65" x2="238.50" y2="70"/>
<line x1="264.50" y1="65" x2="264.50" y2="70"/>
<line x1="290.50" y1="65" x2="290.50" y2="70"/>
<line x1="315.50" y1="65" x2="315.50" y2="70"/>
<line x1="341.50" y1="65" x2="341.50" y2="70"/>
<line x1="367.50" y1="65" x2="367.50" y2="70"/>
<line x1="393.50" y1="65" x2="393.50" y2="70"/>
<line x1="418.50" y1="65" x2="418.50" y2="70"/>
<line x1="444.50" y1="65" x2="444.50" y2="70"/>
<line x1="470.50" y1="65" x2="470.50" y2="70"/>
<line x1="495.50" y1="65" x2="495.50" y2="70"/>
<line x1="521.50" y1="65" x2="521.50" y2="70"/>
<line x1="547.50" y1="65" x2="547.50" y2="70"/>
<line x1="572.50" y1="65" x2="572.50" y2="70"/>
<line x1="598.50" y1="65" x2="598.50" y2="70"/>
<line x1="624.50" y1="65" x2="624.50" y2="70"/>
<line x1="650.50" y1="65" x2="650.50" y2="70"/>
<line x1="675.50" y1="65" x2="675.50" y2="70"/>
<line x1="701.50" y1="65" x2="701.50" y2="70"/>
<line x1="727.50" y1="65" x2="727.50" y2="70"/>
<line x1="752.50" y1="65" x2="752.50" y2="70"/>
<line x1="778.50" y1="65" x2="778.50" y2="70"/>
<line x1="804.50" y1="65" x2="804.50" y2="70"/>
<line x1="829.50" y1="65" x2="829.50" y2="70"/>
<line x1="855.50" y1="65" x2="855.50" y2="70"/>
<line x1="881.50" y1="65" x2="881.50" y2="70"/>
<line x1="907.50" y1="65" x2="907.50" y2="70"/>
<line x1="932.50" y1="65" x2="932.50" y2="70"/>
<line x1="958.50" y1="65" x2="958.50" y2="70"/>
<line x1="984.50" y1="65" x2="984.50" y2="70"/>
</g>
<g fill="#444" font-size="13">
<text x="216.8" y="85.71" text-anchor="end" textLength="153.2" lengthAdjust="spacingAndGlyphs">Zuerich, Kienastenwies</text>
<text x="216.8" y="105.23" text-anchor="end" textLength="173.4" lengthAdjust="spacingAndGlyphs">Zuerich, Zweiackerstrasse</text>
<text x="216.8" y="124.75" text-anchor="end" textLength="150.7" lengthAdjust="spacingAndGlyphs">Zuerich, Loorenstrasse</text>
<text x="216.8" y="144.27" text-anchor="end" textLength="181.4" lengthAdjust="spacingAndGlyphs">Zuerich, Berghaldenstrasse</text>
<text x="216.8" y="163.79" text-anchor="end" textLength="202.0" lengthAdjust="spacingAndGlyphs">Zuerich, Carl-Spitteler-Strasse</text>
<text x="216.8" y="183.31" text-anchor="end" textLength="146.5" lengthAdjust="spacingAndGlyphs">Zuerich, Waserstrasse</text>
<text x="216.8" y="202.83" text-anchor="end" textLength="166.6" lengthAdjust="spacingAndGlyphs">Zuerich, Drusbergstrasse</text>
<text x="216.8" y="222.35" text-anchor="end" textLength="102.4" lengthAdjust="spacingAndGlyphs">Zuerich, Schlyfi</text>
<text x="216.8" y="241.87" text-anchor="end" textLength="135.4" lengthAdjust="spacingAndGlyphs">Zuerich, Kapfstrasse</text>
<text x="216.8" y="261.39" text-anchor="end" textLength="118.3" lengthAdjust="spacingAndGlyphs">Zuerich, Klusplatz</text>
<text x="216.8" y="280.91" text-anchor="end" textLength="137.5" lengthAdjust="spacingAndGlyphs">Zuerich, Freiestrasse</text>
<text x="216.8" y="300.43" text-anchor="end" textLength="152.8" lengthAdjust="spacingAndGlyphs">Zuerich, Hegibachplatz</text>
<text x="216.8" y="319.95" text-anchor="end" textLength="151.0" lengthAdjust="spacingAndGlyphs">Zuerich, Signaustrasse</text>
<text x="216.8" y="339.47" text-anchor="end" textLength="127.9" lengthAdjust="spacingAndGlyphs">Zuerich, Kreuzplatz</text>
<text x="216.8" y="358.99" text-anchor="end" textLength="164.9" lengthAdjust="spacingAndGlyphs">Zuerich, Sprecherstrasse</text>
<text x="216.8" y="378.51" text-anchor="end" textLength="127.0" lengthAdjust="spacingAndGlyphs">Zuerich, Kunsthaus</text>
<text x="216.8" y="398.03" text-anchor="end" textLength="124.1" lengthAdjust="spacingAndGlyphs">Zuerich, Neumarkt</text>
<text x="216.8" y="417.55" text-anchor="end" textLength="106.6" lengthAdjust="spacingAndGlyphs">Zuerich, Central</text>
<text x="216.8" y="437.07" text-anchor="end" textLength="170.2" lengthAdjust="spacingAndGlyphs">Zuerich, Bahnhofplatz/HB</text>
<text x="216.8" y="456.59" text-anchor="end" textLength="141.2" lengthAdjust="spacingAndGlyphs">Zuerich, Loewenplatz</text>
<text x="216.8" y="476.11" text-anchor="end" textLength="146.9" lengthAdjust="spacingAndGlyphs">Zuerich, Sihlpost / HB</text>
<text x="216.8" y="495.63" text-anchor="end" textLength="154.5" lengthAdjust="spacingAndGlyphs">Zuerich, Kanonengasse</text>
<text x="216.8" y="515.15" text-anchor="end" textLength="198.5" lengthAdjust="spacingAndGlyphs">Zuerich, Militaer-/Langstrasse</text>
<text x="216.8" y="534.67" text-anchor="end" textLength="156.3" lengthAdjust="spacingAndGlyphs">Zuerich, Baeckeranlage</text>
<text x="216.8" y="554.19" text-anchor="end" textLength="158.1" lengthAdjust="spacingAndGlyphs">Zuerich, Gueterbahnhof</text>
<text x="216.8" y="573.71" text-anchor="end" textLength="122.3" lengthAdjust="spacingAndGlyphs">Zuerich, Hardplatz</text>
<text x="216.8" y="593.23" text-anchor="end" textLength="159.1" lengthAdjust="spacingAndGlyphs">Zuerich, Herdernstrasse</text>
<text x="216.8" y="612.75" text-anchor="end" textLength="171.1" lengthAdjust="spacingAndGlyphs">Zuerich, SBB-Werkstaette</text>
<text x="216.8" y="632.27" text-anchor="end" textLength="119.1" lengthAdjust="spacingAndGlyphs">Zuerich, Letzipark</text>
<text x="216.8" y="651.79" text-anchor="end" textLength="121.6" lengthAdjust="spacingAndGlyphs">Zuerich, Letzibach</text>
<text x="216.8" y="671.31" text-anchor="end" textLength="183.6" lengthAdjust="spacingAndGlyphs">Zuerich, Bahnhof Altstetten</text>
<text x="216.8" y="690.83" text-anchor="end" textLength="119.9" lengthAdjust="spacingAndGlyphs">Zuerich, Seidelhof</text>
<text x="0" y="0" font-size="12.5" transform="translate(234.85,59.6) rotate(90)" text-anchor="end" textLength="39.2" lengthAdjust="spacingAndGlyphs">33125</text>
<text x="0" y="0" font-size="12.5" transform="translate(260.55,59.6) rotate(90)" text-anchor="end" textLength="39.2" lengthAdjust="spacingAndGlyphs">82798</text>
<text x="0" y="0" font-size="12.5" transform="translate(286.25,59.6) rotate(90)" text-anchor="end" textLength="31.4" lengthAdjust="spacingAndGlyphs">8028</text>
<text x="0" y="0" font-size="12.5" transform="translate(311.95,59.6) rotate(90)" text-anchor="end" textLength="39.2" lengthAdjust="spacingAndGlyphs">16978</text>
<text x="0" y="0" font-size="12.5" transform="translate(337.65,59.6) rotate(90)" text-anchor="end" textLength="31.4" lengthAdjust="spacingAndGlyphs">8064</text>
<text x="0" y="0" font-size="12.5" transform="translate(363.35,59.6) rotate(90)" text-anchor="end" textLength="39.2" lengthAdjust="spacingAndGlyphs">12463</text>
<text x="0" y="0" font-size="12.5" transform="translate(389.05,59.6) rotate(90)" text-anchor="end" textLength="39.2" lengthAdjust="spacingAndGlyphs">17017</text>
<text x="0" y="0" font-size="12.5" transform="translate(414.75,59.6) rotate(90)" text-anchor="end" textLength="39.2" lengthAdjust="spacingAndGlyphs">27501</text>
<text x="0" y="0" font-size="12.5" transform="translate(440.45,59.6) rotate(90)" text-anchor="end" textLength="39.2" lengthAdjust="spacingAndGlyphs">33128</text>
<text x="0" y="0" font-size="12.5" transform="translate(466.15,59.6) rotate(90)" text-anchor="end" textLength="39.2" lengthAdjust="spacingAndGlyphs">38552</text>
<text x="0" y="0" font-size="12.5" transform="translate(491.85,59.6) rotate(90)" text-anchor="end" textLength="39.2" lengthAdjust="spacingAndGlyphs">43888</text>
<text x="0" y="0" font-size="12.5" transform="translate(517.55,59.6) rotate(90)" text-anchor="end" textLength="39.2" lengthAdjust="spacingAndGlyphs">49298</text>
<text x="0" y="0" font-size="12.5" transform="translate(543.25,59.6) rotate(90)" text-anchor="end" textLength="39.2" lengthAdjust="spacingAndGlyphs">82801</text>
<text x="0" y="0" font-size="12.5" transform="translate(568.95,59.6) rotate(90)" text-anchor="end" textLength="31.4" lengthAdjust="spacingAndGlyphs">3646</text>
<text x="0" y="0" font-size="12.5" transform="translate(594.65,59.6) rotate(90)" text-anchor="end" textLength="31.4" lengthAdjust="spacingAndGlyphs">8031</text>
<text x="0" y="0" font-size="12.5" transform="translate(620.35,59.6) rotate(90)" text-anchor="end" textLength="39.2" lengthAdjust="spacingAndGlyphs">12428</text>
<text x="0" y="0" font-size="12.5" transform="translate(646.05,59.6) rotate(90)" text-anchor="end" textLength="39.2" lengthAdjust="spacingAndGlyphs">16981</text>
<text x="0" y="0" font-size="12.5" transform="translate(671.75,59.6) rotate(90)" text-anchor="end" textLength="39.2" lengthAdjust="spacingAndGlyphs">21890</text>
<text x="0" y="0" font-size="12.5" transform="translate(697.45,59.6) rotate(90)" text-anchor="end" textLength="31.4" lengthAdjust="spacingAndGlyphs">8067</text>
<text x="0" y="0" font-size="12.5" transform="translate(723.15,59.6) rotate(90)" text-anchor="end" textLength="39.2" lengthAdjust="spacingAndGlyphs">12466</text>
<text x="0" y="0" font-size="12.5" transform="translate(748.85,59.6) rotate(90)" text-anchor="end" textLength="39.2" lengthAdjust="spacingAndGlyphs">17020</text>
<text x="0" y="0" font-size="12.5" transform="translate(774.55,59.6) rotate(90)" text-anchor="end" textLength="39.2" lengthAdjust="spacingAndGlyphs">27504</text>
<text x="0" y="0" font-size="12.5" transform="translate(800.25,59.6) rotate(90)" text-anchor="end" textLength="39.2" lengthAdjust="spacingAndGlyphs">33131</text>
<text x="0" y="0" font-size="12.5" transform="translate(825.95,59.6) rotate(90)" text-anchor="end" textLength="39.2" lengthAdjust="spacingAndGlyphs">33119</text>
<text x="0" y="0" font-size="12.5" transform="translate(851.65,59.6) rotate(90)" text-anchor="end" textLength="39.2" lengthAdjust="spacingAndGlyphs">38555</text>
<text x="0" y="0" font-size="12.5" transform="translate(877.35,59.6) rotate(90)" text-anchor="end" textLength="39.2" lengthAdjust="spacingAndGlyphs">43891</text>
<text x="0" y="0" font-size="12.5" transform="translate(903.05,59.6) rotate(90)" text-anchor="end" textLength="39.2" lengthAdjust="spacingAndGlyphs">49301</text>
<text x="0" y="0" font-size="12.5" transform="translate(928.75,59.6) rotate(90)" text-anchor="end" textLength="39.2" lengthAdjust="spacingAndGlyphs">82804</text>
<text x="0" y="0" font-size="12.5" transform="translate(954.45,59.6) rotate(90)" text-anchor="end" textLength="31.4" lengthAdjust="spacingAndGlyphs">3649</text>
<text x="0" y="0" font-size="12.5" transform="translate(980.15,59.6) rotate(90)" text-anchor="end" textLength="31.4" lengthAdjust="spacingAndGlyphs">8034</text>
</g>
<g shape-rendering="crispEdges">
<rect x="226" y="312.8" width="528.6" height="3.1" fill="#fff"/>
<rect x="226" y="313.8" width="527.6" height="1.1" fill="#b4b4b4"/>
<rect x="751.9" y="71.3" width="3.1" height="244.5" fill="#fff"/>
<rect x="752.9" y="71.3" width="1.1" height="243.5" fill="#b4b4b4"/>
</g>
<path d="M766,314.5 L772.5,308 V266.5 H968.5 V362.5 H772.5 V321 Z" fill="#444" stroke="#fff" stroke-width="1"/>
<g fill="#fff" font-size="14.3">
<text x="777.5" y="282.90"><tspan font-weight="bold">Time</tspan>: 07:25:48</text>
<text x="777.5" y="301.00"><tspan font-weight="bold">Stop</tspan>: Zuerich, Signaustrasse</text>
<text x="777.5" y="319.10"><tspan font-weight="bold">Occupancy</tspan>: 96.20833</text>
<text x="777.5" y="337.20"><tspan font-weight="bold">Occupancy Category</tspan>: high</text>
<text x="777.5" y="355.30"><tspan font-weight="bold">No Of Measurements</tspan>: 24</text>
</g>
<g shape-rendering="crispEdges" transform="translate(226.0,711.9) scale(4.974193548387097,2.56875)">
<rect x="0" y="25" width="1" height="5" fill="#0d0887"/>
<rect x="0" y="30" width="1" height="2" fill="#16078a"/>
<rect x="1" y="22" width="1" height="2" fill="#0d0887"/>
<rect x="1" y="24" width="1" height="1" fill="#100788"/>
<rect x="1" y="25" width="1" height="1" fill="#16078a"/>
<rect x="1" y="26" width="1" height="6" fill="#1d068e"/>
<rect x="2" y="22" width="1" height="2" fill="#0d0887"/>
<rect x="2" y="24" width="1" height="1" fill="#100788"/>
<rect x="2" y="25" width="1" height="1" fill="#16078a"/>
<rect x="2" y="26" width="1" height="4" fill="#100788"/>
<rect x="2" y="30" width="1" height="2" fill="#1d068e"/>
<rect x="3" y="0" width="1" height="1" fill="#0d0887"/>
<rect x="3" y="1" width="1" height="1" fill="#16078a"/>
<rect x="3" y="2" width="1" height="1" fill="#220690"/>
<rect x="3" y="3" width="1" height="3" fill="#280592"/>
<rect x="3" y="6" width="1" height="1" fill="#2e0595"/>
<rect x="3" y="7" width="1" height="2" fill="#310597"/>
<rect x="3" y="9" width="1" height="7" fill="#370499"/>
<rect x="3" y="16" width="1" height="2" fill="#3f049c"/>
<rect x="3" y="18" width="1" height="4" fill="#16078a"/>
<rect x="3" y="22" width="1" height="3" fill="#1d068e"/>
<rect x="3" y="25" width="1" height="2" fill="#220690"/>
<rect x="3" y="27" width="1" height="3" fill="#280592"/>
<rect x="3" y="30" width="1" height="2" fill="#1d068e"/>
<rect x="4" y="0" width="1" height="1" fill="#0d0887"/>
<rect x="4" y="1" width="1" height="1" fill="#16078a"/>
<rect x="4" y="2" width="1" height="2" fill="#220690"/>
<rect x="4" y="4" width="1" height="2" fill="#280592"/>
<rect x="4" y="6" width="1" height="2" fill="#2e0595"/>
<rect x="4" y="8" width="1" height="1" fill="#310597"/>
<rect x="4" y="9" width="1" height="7" fill="#43039e"/>
<rect x="4" y="16" width="1" height="2" fill="#48039f"/>
<rect x="4" y="18" width="1" height="4" fill="#1d068e"/>
<rect x="4" y="22" width="1" height="3" fill="#16078a"/>
<rect x="4" y="25" width="1" height="5" fill="#2e0595"/>
<rect x="4" y="30" width="1" height="2" fill="#1d068e"/>
<rect x="5" y="25" width="1" height="5" fill="#1d068e"/>
<rect x="5" y="30" width="1" height="2" fill="#220690"/>
<rect x="6" y="0" width="1" height="1" fill="#100788"/>
<rect x="6" y="1" width="1" height="1" fill="#1d068e"/>
<rect x="6" y="2" width="1" height="1" fill="#280592"/>
<rect x="6" y="3" width="1" height="1" fill="#2e0595"/>
<rect x="6" y="4" width="1" height="2" fill="#48039f"/>
<rect x="6" y="6" width="1" height="12" fill="#4c02a1"/>
<rect x="6" y="18" width="1" height="7" fill="#2e0595"/>
<rect x="6" y="25" width="1" height="2" fill="#370499"/>
<rect x="6" y="27" width="1" height="5" fill="#220690"/>
<rect x="7" y="25" width="1" height="2" fill="#1d068e"/>
<rect x="7" y="27" width="1" height="3" fill="#16078a"/>
<rect x="7" y="30" width="1" height="2" fill="#220690"/>
<rect x="8" y="0" width="1" height="1" fill="#1d068e"/>
<rect x="8" y="1" width="1" height="1" fill="#220690"/>
<rect x="8" y="2" width="1" height="2" fill="#2e0595"/>
<rect x="8" y="4" width="1" height="1" fill="#310597"/>
<rect x="8" y="5" width="1" height="1" fill="#370499"/>
<rect x="8" y="6" width="1" height="3" fill="#4c02a1"/>
<rect x="8" y="9" width="1" height="1" fill="#5002a2"/>
<rect x="8" y="10" width="1" height="5" fill="#5801a4"/>
<rect x="8" y="15" width="1" height="1" fill="#5502a4"/>
<rect x="8" y="16" width="1" height="1" fill="#5801a4"/>
<rect x="8" y="17" width="1" height="1" fill="#4c02a1"/>
<rect x="8" y="18" width="1" height="7" fill="#310597"/>
<rect x="8" y="25" width="1" height="2" fill="#3f049c"/>
<rect x="8" y="27" width="1" height="3" fill="#310597"/>
<rect x="8" y="30" width="1" height="2" fill="#220690"/>
<rect x="9" y="25" width="1" height="5" fill="#220690"/>
<rect x="9" y="30" width="1" height="2" fill="#280592"/>
<rect x="10" y="26" width="1" height="4" fill="#0d0887"/>
<rect x="10" y="30" width="1" height="2" fill="#16078a"/>
<rect x="11" y="0" width="1" height="1" fill="#2e0595"/>
<rect x="11" y="1" width="1" height="1" fill="#280592"/>
<rect x="11" y="2" width="1" height="1" fill="#2e0595"/>
<rect x="11" y="3" width="1" height="1" fill="#370499"/>
<rect x="11" y="4" width="1" height="1" fill="#5502a4"/>
<rect x="11" y="5" width="1" height="1" fill="#9613a1"/>
<rect x="11" y="6" width="1" height="1" fill="#9e199d"/>
<rect x="11" y="7" width="1" height="10" fill="#a51f99"/>
<rect x="11" y="17" width="1" height="1" fill="#9e199d"/>
<rect x="11" y="18" width="1" height="2" fill="#5801a4"/>
<rect x="11" y="20" width="1" height="2" fill="#a11b9b"/>
<rect x="11" y="22" width="1" height="2" fill="#9e199d"/>
<rect x="11" y="24" width="1" height="1" fill="#4c02a1"/>
<rect x="11" y="25" width="1" height="2" fill="#5502a4"/>
<rect x="11" y="27" width="1" height="1" fill="#370499"/>
<rect x="11" y="28" width="1" height="2" fill="#2e0595"/>
<rect x="11" y="30" width="1" height="2" fill="#280592"/>
<rect x="12" y="0" width="1" height="1" fill="#280592"/>
<rect x="12" y="1" width="1" height="1" fill="#2e0595"/>
<rect x="12" y="2" width="1" height="1" fill="#310597"/>
<rect x="12" y="3" width="1" height="1" fill="#370499"/>
<rect x="12" y="4" width="1" height="1" fill="#43039e"/>
<rect x="12" y="5" width="1" height="1" fill="#3f049c"/>
<rect x="12" y="6" width="1" height="1" fill="#9613a1"/>
<rect x="12" y="7" width="1" height="5" fill="#9a169f"/>
<rect x="12" y="12" width="1" height="1" fill="#9e199d"/>
<rect x="12" y="13" width="1" height="4" fill="#9a169f"/>
<rect x="12" y="17" width="1" height="1" fill="#5801a4"/>
<rect x="12" y="18" width="1" height="2" fill="#4c02a1"/>
<rect x="12" y="20" width="1" height="3" fill="#5002a2"/>
<rect x="12" y="23" width="1" height="1" fill="#4c02a1"/>
<rect x="12" y="24" width="1" height="1" fill="#43039e"/>
<rect x="12" y="25" width="1" height="2" fill="#9a169f"/>
<rect x="12" y="27" width="1" height="1" fill="#3f049c"/>
<rect x="12" y="28" width="1" height="2" fill="#370499"/>
<rect x="12" y="30" width="1" height="2" fill="#2e0595"/>
<rect x="13" y="0" width="1" height="1" fill="#280592"/>
<rect x="13" y="1" width="1" height="2" fill="#310597"/>
<rect x="13" y="3" width="1" height="1" fill="#370499"/>
<rect x="13" y="4" width="1" height="2" fill="#3f049c"/>
<rect x="13" y="6" width="1" height="2" fill="#9613a1"/>
<rect x="13" y="8" width="1" height="4" fill="#9a169f"/>
<rect x="13" y="12" width="1" height="1" fill="#9e199d"/>
<rect x="13" y="13" width="1" height="4" fill="#9a169f"/>
<rect x="13" y="17" width="1" height="1" fill="#6001a6"/>
<rect x="13" y="18" width="1" height="4" fill="#4c02a1"/>
<rect x="13" y="22" width="1" height="1" fill="#48039f"/>
<rect x="13" y="23" width="1" height="1" fill="#43039e"/>
<rect x="13" y="24" width="1" height="1" fill="#370499"/>
<rect x="13" y="25" width="1" height="2" fill="#43039e"/>
<rect x="13" y="27" width="1" height="1" fill="#370499"/>
<rect x="13" y="28" width="1" height="2" fill="#310597"/>
<rect x="13" y="30" width="1" height="2" fill="#220690"/>
<rect x="14" y="0" width="1" height="1" fill="#280592"/>
<rect x="14" y="1" width="1" height="1" fill="#2e0595"/>
<rect x="14" y="2" width="1" height="1" fill="#3f049c"/>
<rect x="14" y="3" width="1" height="1" fill="#43039e"/>
<rect x="14" y="4" width="1" height="1" fill="#9613a1"/>
<rect x="14" y="5" width="1" height="1" fill="#9a169f"/>
<rect x="14" y="6" width="1" height="6" fill="#a51f99"/>
<rect x="14" y="12" width="1" height="3" fill="#a72197"/>
<rect x="14" y="15" width="1" height="1" fill="#a51f99"/>
<rect x="14" y="16" width="1" height="1" fill="#a72197"/>
<rect x="14" y="17" width="1" height="1" fill="#a51f99"/>
<rect x="14" y="18" width="1" height="3" fill="#4c02a1"/>
<rect x="14" y="21" width="1" height="2" fill="#48039f"/>
<rect x="14" y="23" width="1" height="1" fill="#43039e"/>
<rect x="14" y="24" width="1" height="1" fill="#370499"/>
<rect x="14" y="25" width="1" height="1" fill="#5801a4"/>
<rect x="14" y="26" width="1" height="1" fill="#9a169f"/>
<rect x="14" y="27" width="1" height="1" fill="#3f049c"/>
<rect x="14" y="28" width="1" height="2" fill="#3a049a"/>
<rect x="14" y="30" width="1" height="2" fill="#220690"/>
<rect x="15" y="0" width="1" height="1" fill="#220690"/>
<rect x="15" y="1" width="1" height="1" fill="#2e0595"/>
<rect x="15" y="2" width="1" height="1" fill="#43039e"/>
<rect x="15" y="3" width="1" height="1" fill="#4c02a1"/>
<rect x="15" y="4" width="1" height="1" fill="#9613a1"/>
<rect x="15" y="5" width="1" height="1" fill="#9a169f"/>
<rect x="15" y="6" width="1" height="2" fill="#a51f99"/>
<rect x="15" y="8" width="1" height="1" fill="#a72197"/>
<rect x="15" y="9" width="1" height="6" fill="#ab2494"/>
<rect x="15" y="15" width="1" height="1" fill="#a72197"/>
<rect x="15" y="16" width="1" height="1" fill="#ab2494"/>
<rect x="15" y="17" width="1" height="1" fill="#a72197"/>
<rect x="15" y="18" width="1" height="2" fill="#5502a4"/>
<rect x="15" y="20" width="1" height="1" fill="#a11b9b"/>
<rect x="15" y="21" width="1" height="1" fill="#9e199d"/>
<rect x="15" y="22" width="1" height="1" fill="#5801a4"/>
<rect x="15" y="23" width="1" height="1" fill="#4c02a1"/>
<rect x="15" y="24" width="1" height="1" fill="#43039e"/>
<rect x="15" y="25" width="1" height="2" fill="#9a169f"/>
<rect x="15" y="27" width="1" height="1" fill="#3f049c"/>
<rect x="15" y="28" width="1" height="1" fill="#3a049a"/>
<rect x="15" y="29" width="1" height="1" fill="#370499"/>
<rect x="15" y="30" width="1" height="2" fill="#280592"/>
<rect x="16" y="0" width="1" height="1" fill="#1b068d"/>
<rect x="16" y="1" width="1" height="1" fill="#2e0595"/>
<rect x="16" y="2" width="1" height="1" fill="#310597"/>
<rect x="16" y="3" width="1" height="1" fill="#370499"/>
<rect x="16" y="4" width="1" height="1" fill="#3f049c"/>
<rect x="16" y="5" width="1" height="1" fill="#48039f"/>
<rect x="16" y="6" width="1" height="1" fill="#5502a4"/>
<rect x="16" y="7" width="1" height="2" fill="#9613a1"/>
<rect x="16" y="9" width="1" height="4" fill="#5002a2"/>
<rect x="16" y="13" width="1" height="3" fill="#4c02a1"/>
<rect x="16" y="16" width="1" height="5" fill="#48039f"/>
<rect x="16" y="21" width="1" height="2" fill="#43039e"/>
<rect x="16" y="23" width="1" height="2" fill="#3f049c"/>
<rect x="16" y="25" width="1" height="2" fill="#5502a4"/>
<rect x="16" y="27" width="1" height="1" fill="#3f049c"/>
<rect x="16" y="28" width="1" height="1" fill="#370499"/>
<rect x="16" y="29" width="1" height="1" fill="#310597"/>
<rect x="16" y="30" width="1" height="2" fill="#280592"/>
<rect x="17" y="0" width="1" height="1" fill="#2e0595"/>
<rect x="17" y="1" width="1" height="1" fill="#3f049c"/>
<rect x="17" y="2" width="1" height="1" fill="#5002a2"/>
<rect x="17" y="3" width="1" height="1" fill="#8f0da4"/>
<rect x="17" y="4" width="1" height="1" fill="#9e199d"/>
<rect x="17" y="5" width="1" height="1" fill="#a51f99"/>
<rect x="17" y="6" width="1" height="2" fill="#b12a90"/>
<rect x="17" y="8" width="1" height="1" fill="#b6308b"/>
<rect x="17" y="9" width="1" height="4" fill="#ab2494"/>
<rect x="17" y="13" width="1" height="3" fill="#a11b9b"/>
<rect x="17" y="16" width="1" height="1" fill="#9e199d"/>
<rect x="17" y="17" width="1" height="1" fill="#9613a1"/>
<rect x="17" y="18" width="1" height="2" fill="#48039f"/>
<rect x="17" y="20" width="1" height="1" fill="#4c02a1"/>
<rect x="17" y="21" width="1" height="1" fill="#48039f"/>
<rect x="17" y="22" width="1" height="2" fill="#43039e"/>
<rect x="17" y="24" width="1" height="1" fill="#370499"/>
<rect x="17" y="25" width="1" height="2" fill="#48039f"/>
<rect x="17" y="27" width="1" height="1" fill="#3a049a"/>
<rect x="17" y="28" width="1" height="2" fill="#370499"/>
<rect x="17" y="30" width="1" height="2" fill="#220690"/>
<rect x="18" y="0" width="1" height="1" fill="#2e0595"/>
<rect x="18" y="1" width="1" height="1" fill="#4c02a1"/>
<rect x="18" y="2" width="1" height="1" fill="#8f0da4"/>
<rect x="18" y="3" width="1" height="1" fill="#9613a1"/>
<rect x="18" y="4" width="1" height="1" fill="#a51f99"/>
<rect x="18" y="5" width="1" height="1" fill="#b12a90"/>
<rect x="18" y="6" width="1" height="1" fill="#e56a5d"/>
<rect x="18" y="7" width="1" height="1" fill="#e87059"/>
<rect x="18" y="8" width="1" height="1" fill="#e76e5b"/>
<rect x="18" y="9" width="1" height="1" fill="#e56a5d"/>
<rect x="18" y="10" width="1" height="2" fill="#b6308b"/>
<rect x="18" y="12" width="1" height="1" fill="#e76e5b"/>
<rect x="18" y="13" width="1" height="2" fill="#e56a5d"/>
<rect x="18" y="15" width="1" height="1" fill="#b12a90"/>
<rect x="18" y="16" width="1" height="1" fill="#ab2494"/>
<rect x="18" y="17" width="1" height="1" fill="#a51f99"/>
<rect x="18" y="18" width="1" height="3" fill="#9a169f"/>
<rect x="18" y="21" width="1" height="1" fill="#9613a1"/>
<rect x="18" y="22" width="1" height="1" fill="#5801a4"/>
<rect x="18" y="23" width="1" height="1" fill="#9e199d"/>
<rect x="18" y="24" width="1" height="1" fill="#5502a4"/>
<rect x="18" y="25" width="1" height="2" fill="#ab2494"/>
<rect x="18" y="27" width="1" height="1" fill="#9e199d"/>
<rect x="18" y="28" width="1" height="2" fill="#3f049c"/>
<rect x="18" y="30" width="1" height="2" fill="#280592"/>
<rect x="19" y="0" width="1" height="1" fill="#3a049a"/>
<rect x="19" y="1" width="1" height="1" fill="#8f0da4"/>
<rect x="19" y="2" width="1" height="1" fill="#9e199d"/>
<rect x="19" y="3" width="1" height="1" fill="#a51f99"/>
<rect x="19" y="4" width="1" height="1" fill="#e56a5d"/>
<rect x="19" y="5" width="1" height="1" fill="#e87059"/>
<rect x="19" y="6" width="1" height="2" fill="#ef7e50"/>
<rect x="19" y="8" width="1" height="1" fill="#f2844b"/>
<rect x="19" y="9" width="1" height="1" fill="#ef7e50"/>
<rect x="19" y="10" width="1" height="3" fill="#ed7a52"/>
<rect x="19" y="13" width="1" height="1" fill="#eb7655"/>
<rect x="19" y="14" width="1" height="1" fill="#ea7457"/>
<rect x="19" y="15" width="1" height="1" fill="#ab2494"/>
<rect x="19" y="16" width="1" height="1" fill="#b12a90"/>
<rect x="19" y="17" width="1" height="4" fill="#ab2494"/>
<rect x="19" y="21" width="1" height="1" fill="#9e199d"/>
<rect x="19" y="22" width="1" height="3" fill="#9a169f"/>
<rect x="19" y="25" width="1" height="2" fill="#a72197"/>
<rect x="19" y="27" width="1" height="1" fill="#9a169f"/>
<rect x="19" y="28" width="1" height="2" fill="#3f049c"/>
<rect x="19" y="30" width="1" height="2" fill="#2e0595"/>
<rect x="20" y="0" width="1" height="1" fill="#3f049c"/>
<rect x="20" y="1" width="1" height="1" fill="#9613a1"/>
<rect x="20" y="2" width="1" height="1" fill="#a51f99"/>
<rect x="20" y="3" width="1" height="1" fill="#b12a90"/>
<rect x="20" y="4" width="1" height="1" fill="#e87059"/>
<rect x="20" y="5" width="1" height="1" fill="#eb7655"/>
<rect x="20" y="6" width="1" height="2" fill="#f2844b"/>
<rect x="20" y="8" width="1" height="1" fill="#f0f921"/>
<rect x="20" y="9" width="1" height="3" fill="#f2844b"/>
<rect x="20" y="12" width="1" height="1" fill="#f0f921"/>
<rect x="20" y="13" width="1" height="2" fill="#ef7e50"/>
<rect x="20" y="15" width="1" height="1" fill="#ab2494"/>
<rect x="20" y="16" width="1" height="1" fill="#ad2793"/>
<rect x="20" y="17" width="1" height="1" fill="#a51f99"/>
<rect x="20" y="18" width="1" height="1" fill="#ab2494"/>
<rect x="20" y="19" width="1" height="1" fill="#ad2793"/>
<rect x="20" y="20" width="1" height="1" fill="#b12a90"/>
<rect x="20" y="21" width="1" height="1" fill="#9e199d"/>
<rect x="20" y="22" width="1" height="2" fill="#9a169f"/>
<rect x="20" y="24" width="1" height="1" fill="#5502a4"/>
<rect x="20" y="25" width="1" height="2" fill="#ab2494"/>
<rect x="20" y="27" width="1" height="1" fill="#a51f99"/>
<rect x="20" y="28" width="1" height="2" fill="#3f049c"/>
<rect x="20" y="30" width="1" height="2" fill="#2e0595"/>
<rect x="21" y="0" width="1" height="1" fill="#310597"/>
<rect x="21" y="1" width="1" height="1" fill="#43039e"/>
<rect x="21" y="2" width="1" height="1" fill="#9613a1"/>
<rect x="21" y="3" width="1" height="1" fill="#9a169f"/>
<rect x="21" y="4" width="1" height="1" fill="#a11b9b"/>
<rect x="21" y="5" width="1" height="1" fill="#ab2494"/>
<rect x="21" y="6" width="1" height="1" fill="#e87059"/>
<rect x="21" y="7" width="1" height="1" fill="#ea7457"/>
<rect x="21" y="8" width="1" height="1" fill="#e87059"/>
<rect x="21" y="9" width="1" height="6" fill="#e56a5d"/>
<rect x="21" y="15" width="1" height="1" fill="#a72197"/>
<rect x="21" y="16" width="1" height="1" fill="#ab2494"/>
<rect x="21" y="17" width="1" height="1" fill="#a51f99"/>
<rect x="21" y="18" width="1" height="1" fill="#a72197"/>
<rect x="21" y="19" width="1" height="1" fill="#a51f99"/>
<rect x="21" y="20" width="1" height="1" fill="#a72197"/>
<rect x="21" y="21" width="1" height="1" fill="#9a169f"/>
<rect x="21" y="22" width="1" height="1" fill="#48039f"/>
<rect x="21" y="23" width="1" height="1" fill="#43039e"/>
<rect x="21" y="24" width="1" height="1" fill="#48039f"/>
<rect x="21" y="25" width="1" height="2" fill="#9a169f"/>
<rect x="21" y="27" width="1" height="1" fill="#4c02a1"/>
<rect x="21" y="28" width="1" height="1" fill="#43039e"/>
<rect x="21" y="29" width="1" height="1" fill="#3f049c"/>
<rect x="21" y="30" width="1" height="2" fill="#220690"/>
<rect x="22" y="0" width="1" height="1" fill="#2e0595"/>
<rect x="22" y="1" width="1" height="1" fill="#4c02a1"/>
<rect x="22" y="2" width="1" height="1" fill="#9e199d"/>
<rect x="22" y="3" width="1" height="1" fill="#a11b9b"/>
<rect x="22" y="4" width="1" height="1" fill="#e76e5b"/>
<rect x="22" y="5" width="1" height="1" fill="#e87059"/>
<rect x="22" y="6" width="1" height="3" fill="#eb7655"/>
<rect x="22" y="9" width="1" height="1" fill="#ea7457"/>
<rect x="22" y="10" width="1" height="5" fill="#e87059"/>
<rect x="22" y="15" width="1" height="1" fill="#b12a90"/>
<rect x="22" y="16" width="1" height="2" fill="#b6308b"/>
<rect x="22" y="18" width="1" height="1" fill="#ab2494"/>
<rect x="22" y="19" width="1" height="2" fill="#a72197"/>
<rect x="22" y="21" width="1" height="1" fill="#9a169f"/>
<rect x="22" y="22" width="1" height="1" fill="#48039f"/>
<rect x="22" y="23" width="1" height="1" fill="#43039e"/>
<rect x="22" y="24" width="1" height="1" fill="#48039f"/>
<rect x="22" y="25" width="1" height="3" fill="#9e199d"/>
<rect x="22" y="28" width="1" height="1" fill="#9a169f"/>
<rect x="22" y="29" width="1" height="1" fill="#48039f"/>
<rect x="22" y="30" width="1" height="2" fill="#220690"/>
<rect x="23" y="0" width="1" height="1" fill="#310597"/>
<rect x="23" y="1" width="1" height="1" fill="#3f049c"/>
<rect x="23" y="2" width="1" height="1" fill="#9613a1"/>
<rect x="23" y="3" width="1" height="1" fill="#9e199d"/>
<rect x="23" y="4" width="1" height="1" fill="#e3685f"/>
<rect x="23" y="5" width="1" height="1" fill="#e56a5d"/>
<rect x="23" y="6" width="1" height="1" fill="#feba2c"/>
<rect x="23" y="7" width="1" height="1" fill="#febe2a"/>
<rect x="23" y="8" width="1" height="2" fill="#fdc627"/>
<rect x="23" y="10" width="1" height="1" fill="#feb72d"/>
<rect x="23" y="11" width="1" height="1" fill="#fca636"/>
<rect x="23" y="12" width="1" height="1" fill="#eb7655"/>
<rect x="23" y="13" width="1" height="1" fill="#e87059"/>
<rect x="23" y="14" width="1" height="1" fill="#e16462"/>
<rect x="23" y="15" width="1" height="2" fill="#dd5e66"/>
<rect x="23" y="17" width="1" height="4" fill="#da5b69"/>
<rect x="23" y="21" width="1" height="1" fill="#9e199d"/>
<rect x="23" y="22" width="1" height="2" fill="#9613a1"/>
<rect x="23" y="24" width="1" height="1" fill="#9a169f"/>
<rect x="23" y="25" width="1" height="2" fill="#9e199d"/>
<rect x="23" y="27" width="1" height="1" fill="#9a169f"/>
<rect x="23" y="28" width="1" height="2" fill="#9613a1"/>
<rect x="23" y="30" width="1" height="2" fill="#280592"/>
<rect x="24" y="0" width="1" height="1" fill="#310597"/>
<rect x="24" y="1" width="1" height="1" fill="#3f049c"/>
<rect x="24" y="2" width="1" height="1" fill="#9613a1"/>
<rect x="24" y="3" width="1" height="1" fill="#9a169f"/>
<rect x="24" y="4" width="1" height="1" fill="#a51f99"/>
<rect x="24" y="5" width="1" height="1" fill="#ab2494"/>
<rect x="24" y="6" width="1" height="3" fill="#e76e5b"/>
<rect x="24" y="9" width="1" height="1" fill="#e56a5d"/>
<rect x="24" y="10" width="1" height="5" fill="#e76e5b"/>
<rect x="24" y="15" width="1" height="1" fill="#a51f99"/>
<rect x="24" y="16" width="1" height="1" fill="#ab2494"/>
<rect x="24" y="17" width="1" height="2" fill="#a11b9b"/>
<rect x="24" y="19" width="1" height="2" fill="#a51f99"/>
<rect x="24" y="21" width="1" height="1" fill="#a11b9b"/>
<rect x="24" y="22" width="1" height="2" fill="#9a169f"/>
<rect x="24" y="24" width="1" height="1" fill="#9e199d"/>
<rect x="24" y="25" width="1" height="2" fill="#a72197"/>
<rect x="24" y="27" width="1" height="1" fill="#a11b9b"/>
<rect x="24" y="28" width="1" height="1" fill="#9a169f"/>
<rect x="24" y="29" width="1" height="1" fill="#43039e"/>
<rect x="24" y="30" width="1" height="2" fill="#280592"/>
<rect x="25" y="0" width="1" height="1" fill="#48039f"/>
<rect x="25" y="1" width="1" height="1" fill="#9613a1"/>
<rect x="25" y="2" width="1" height="1" fill="#9410a2"/>
<rect x="25" y="3" width="1" height="1" fill="#9a169f"/>
<rect x="25" y="4" width="1" height="1" fill="#ab2494"/>
<rect x="25" y="5" width="1" height="1" fill="#b12a90"/>
<rect x="25" y="6" width="1" height="2" fill="#e76e5b"/>
<rect x="25" y="8" width="1" height="1" fill="#e87059"/>
<rect x="25" y="9" width="1" height="6" fill="#e76e5b"/>
<rect x="25" y="15" width="1" height="1" fill="#ab2494"/>
<rect x="25" y="16" width="1" height="1" fill="#b12a90"/>
<rect x="25" y="17" width="1" height="1" fill="#a72197"/>
<rect x="25" y="18" width="1" height="1" fill="#9e199d"/>
<rect x="25" y="19" width="1" height="1" fill="#9a169f"/>
<rect x="25" y="20" width="1" height="1" fill="#9613a1"/>
<rect x="25" y="21" width="1" height="1" fill="#48039f"/>
<rect x="25" y="22" width="1" height="2" fill="#43039e"/>
<rect x="25" y="24" width="1" height="1" fill="#48039f"/>
<rect x="25" y="25" width="1" height="3" fill="#9a169f"/>
<rect x="25" y="28" width="1" height="1" fill="#48039f"/>
<rect x="25" y="29" width="1" height="1" fill="#3f049c"/>
<rect x="25" y="30" width="1" height="2" fill="#220690"/>
<rect x="26" y="0" width="1" height="1" fill="#43039e"/>
<rect x="26" y="1" width="1" height="2" fill="#9613a1"/>
<rect x="26" y="3" width="1" height="1" fill="#9a169f"/>
<rect x="26" y="4" width="1" height="1" fill="#ab2494"/>
<rect x="26" y="5" width="1" height="1" fill="#b12a90"/>
<rect x="26" y="6" width="1" height="2" fill="#e76e5b"/>
<rect x="26" y="8" width="1" height="1" fill="#e87059"/>
<rect x="26" y="9" width="1" height="6" fill="#e76e5b"/>
<rect x="26" y="15" width="1" height="2" fill="#ab2494"/>
<rect x="26" y="17" width="1" height="1" fill="#a51f99"/>
<rect x="26" y="18" width="1" height="2" fill="#9a169f"/>
<rect x="26" y="20" width="1" height="1" fill="#9613a1"/>
<rect x="26" y="21" width="1" height="1" fill="#4c02a1"/>
<rect x="26" y="22" width="1" height="2" fill="#43039e"/>
<rect x="26" y="24" width="1" height="1" fill="#48039f"/>
<rect x="26" y="25" width="1" height="2" fill="#9a169f"/>
<rect x="26" y="27" width="1" height="1" fill="#9613a1"/>
<rect x="26" y="28" width="1" height="1" fill="#43039e"/>
<rect x="26" y="29" width="1" height="1" fill="#3f049c"/>
<rect x="26" y="30" width="1" height="2" fill="#220690"/>
<rect x="27" y="0" width="1" height="1" fill="#43039e"/>
<rect x="27" y="1" width="1" height="1" fill="#5002a2"/>
<rect x="27" y="2" width="1" height="1" fill="#9a169f"/>
<rect x="27" y="3" width="1" height="1" fill="#a11b9b"/>
<rect x="27" y="4" width="1" height="1" fill="#e76e5b"/>
<rect x="27" y="5" width="1" height="1" fill="#e87059"/>
<rect x="27" y="6" width="1" height="3" fill="#ef7e50"/>
<rect x="27" y="9" width="1" height="6" fill="#eb7655"/>
<rect x="27" y="15" width="1" height="2" fill="#b12a90"/>
<rect x="27" y="17" width="1" height="1" fill="#ab2494"/>
<rect x="27" y="18" width="1" height="2" fill="#b6308b"/>
<rect x="27" y="20" width="1" height="1" fill="#e56a5d"/>
<rect x="27" y="21" width="1" height="1" fill="#b12a90"/>
<rect x="27" y="22" width="1" height="1" fill="#ab2494"/>
<rect x="27" y="23" width="1" height="1" fill="#9a169f"/>
<rect x="27" y="24" width="1" height="1" fill="#9e199d"/>
<rect x="27" y="25" width="1" height="2" fill="#b12a90"/>
<rect x="27" y="27" width="1" height="1" fill="#a11b9b"/>
<rect x="27" y="28" width="1" height="1" fill="#9613a1"/>
<rect x="27" y="29" width="1" height="1" fill="#48039f"/>
<rect x="27" y="30" width="1" height="2" fill="#280592"/>
<rect x="28" y="0" width="1" height="1" fill="#2e0595"/>
<rect x="28" y="1" width="1" height="1" fill="#3a049a"/>
<rect x="28" y="2" width="1" height="1" fill="#9410a2"/>
<rect x="28" y="3" width="1" height="1" fill="#9613a1"/>
<rect x="28" y="4" width="1" height="1" fill="#a72197"/>
<rect x="28" y="5" width="1" height="1" fill="#ab2494"/>
<rect x="28" y="6" width="1" height="2" fill="#e76e5b"/>
<rect x="28" y="8" width="1" height="1" fill="#e87059"/>
<rect x="28" y="9" width="1" height="6" fill="#e76e5b"/>
<rect x="28" y="15" width="1" height="1" fill="#a72197"/>
<rect x="28" y="16" width="1" height="1" fill="#b12a90"/>
<rect x="28" y="17" width="1" height="1" fill="#ab2494"/>
<rect x="28" y="18" width="1" height="2" fill="#e56a5d"/>
<rect x="28" y="20" width="1" height="1" fill="#ea7457"/>
<rect x="28" y="21" width="1" height="1" fill="#e56a5d"/>
<rect x="28" y="22" width="1" height="1" fill="#a72197"/>
<rect x="28" y="23" width="1" height="1" fill="#9a169f"/>
<rect x="28" y="24" width="1" height="1" fill="#9e199d"/>
<rect x="28" y="25" width="1" height="2" fill="#a72197"/>
<rect x="28" y="27" width="1" height="1" fill="#9e199d"/>
<rect x="28" y="28" width="1" height="1" fill="#3f049c"/>
<rect x="28" y="29" width="1" height="1" fill="#3a049a"/>
<rect x="28" y="30" width="1" height="2" fill="#1d068e"/>
<rect x="29" y="0" width="1" height="1" fill="#280592"/>
<rect x="29" y="1" width="1" height="1" fill="#3a049a"/>
<rect x="29" y="2" width="1" height="1" fill="#9410a2"/>
<rect x="29" y="3" width="1" height="1" fill="#9a169f"/>
<rect x="29" y="4" width="1" height="1" fill="#ab2494"/>
<rect x="29" y="5" width="1" height="1" fill="#b12a90"/>
<rect x="29" y="6" width="1" height="2" fill="#e56a5d"/>
<rect x="29" y="8" width="1" height="1" fill="#e76e5b"/>
<rect x="29" y="9" width="1" height="5" fill="#e56a5d"/>
<rect x="29" y="14" width="1" height="1" fill="#ea7457"/>
<rect x="29" y="15" width="1" height="2" fill="#ab2494"/>
<rect x="29" y="17" width="1" height="2" fill="#a72197"/>
<rect x="29" y="19" width="1" height="1" fill="#ab2494"/>
<rect x="29" y="20" width="1" height="1" fill="#b12a90"/>
<rect x="29" y="21" width="1" height="1" fill="#ab2494"/>
<rect x="29" y="22" width="1" height="1" fill="#9613a1"/>
<rect x="29" y="23" width="1" height="1" fill="#3f049c"/>
<rect x="29" y="24" width="1" height="1" fill="#370499"/>
<rect x="29" y="25" width="1" height="2" fill="#5002a2"/>
<rect x="29" y="27" width="1" height="1" fill="#48039f"/>
<rect x="29" y="28" width="1" height="1" fill="#3a049a"/>
<rect x="29" y="29" width="1" height="1" fill="#370499"/>
<rect x="29" y="30" width="1" height="2" fill="#220690"/>
</g>
<path d="M240.92,711.90V714.47M250.87,711.90V714.47M255.85,711.90V714.47M260.82,711.90V714.47M265.79,711.90V714.47M270.77,711.90V714.47M280.72,711.90V714.47M320.51,714.47H325.48M325.48,714.47H330.46M350.35,714.47H355.33M355.33,714.47H360.30M240.92,714.47V717.04M250.87,714.47V717.04M255.85,714.47V717.04M260.82,714.47V717.04M265.79,714.47V717.04M270.77,714.47V717.04M280.72,714.47V717.04M320.51,714.47V717.04M315.54,717.04H320.51M330.46,714.47V717.04M330.46,717.04H335.43M335.43,717.04H340.41M340.41,717.04H345.38M350.35,714.47V717.04M345.38,717.04H350.35M360.30,714.47V717.04M360.30,717.04H365.28M365.28,717.04H370.25M370.25,717.04H375.23M240.92,717.04V719.61M250.87,717.04V719.61M255.85,717.04V719.61M260.82,717.04V719.61M265.79,717.04V719.61M270.77,717.04V719.61M280.72,717.04V719.61M315.54,717.04V719.61M310.56,719.61H315.54M240.92,719.61V722.17M250.87,719.61V722.17M255.85,719.61V722.17M260.82,719.61V722.17M265.79,719.61V722.17M270.77,719.61V722.17M280.72,719.61V722.17M295.64,722.17H300.61M300.61,722.17H305.59M310.56,719.61V722.17M320.51,722.17H325.48M325.48,722.17H330.46M335.43,722.17H340.41M340.41,722.17H345.38M360.30,722.17H365.28M240.92,722.17V724.74M250.87,722.17V724.74M255.85,722.17V724.74M260.82,722.17V724.74M265.79,722.17V724.74M270.77,722.17V724.74M280.72,722.17V724.74M280.72,724.74H285.69M295.64,722.17V724.74M305.59,722.17V724.74M310.56,722.17V724.74M320.51,722.17V724.74M330.46,722.17V724.74M335.43,722.17V724.74M345.38,722.17V724.74M360.30,722.17V724.74M365.28,722.17V724.74M240.92,724.74V727.31M250.87,724.74V727.31M255.85,724.74V727.31M260.82,724.74V727.31M265.79,724.74V727.31M270.77,724.74V727.31M280.72,724.74V727.31M285.69,724.74V727.31M285.69,727.31H290.66M295.64,724.74V727.31M290.66,727.31H295.64M305.59,724.74V727.31M310.56,724.74V727.31M320.51,724.74V727.31M315.54,727.31H320.51M330.46,724.74V727.31M335.43,724.74V727.31M330.46,727.31H335.43M345.38,724.74V727.31M340.41,727.31H345.38M345.38,727.31H350.35M350.35,727.31H355.33M360.30,724.74V727.31M355.33,727.31H360.30M365.28,724.74V727.31M365.28,727.31H370.25M370.25,727.31H375.23M240.92,727.31V729.88M250.87,727.31V729.88M255.85,727.31V729.88M260.82,727.31V729.88M265.79,727.31V729.88M270.77,727.31V729.88M280.72,727.31V729.88M305.59,727.31V729.88M310.56,727.31V729.88M305.59,729.88H310.56M315.54,727.31V729.88M340.41,727.31V729.88M345.38,727.31V729.88M240.92,729.88V732.45M250.87,729.88V732.45M255.85,729.88V732.45M260.82,729.88V732.45M265.79,729.88V732.45M270.77,729.88V732.45M280.72,729.88V732.45M315.54,729.88V732.45M325.48,732.45H330.46M340.41,729.88V732.45M345.38,729.88V732.45M240.92,732.45V735.02M250.87,732.45V735.02M255.85,732.45V735.02M260.82,732.45V735.02M265.79,732.45V735.02M270.77,732.45V735.02M280.72,732.45V735.02M305.59,735.02H310.56M315.54,732.45V735.02M325.48,732.45V735.02M330.46,732.45V735.02M325.48,735.02H330.46M340.41,732.45V735.02M345.38,732.45V735.02M240.92,735.02V737.59M250.87,735.02V737.59M255.85,735.02V737.59M260.82,735.02V737.59M265.79,735.02V737.59M270.77,735.02V737.59M280.72,735.02V737.59M305.59,735.02V737.59M310.56,735.02V737.59M315.54,735.02V737.59M315.54,737.59H320.51M340.41,735.02V737.59M345.38,735.02V737.59M240.92,737.59V740.16M250.87,737.59V740.16M255.85,737.59V740.16M260.82,737.59V740.16M265.79,737.59V740.16M270.77,737.59V740.16M280.72,737.59V740.16M305.59,737.59V740.16M310.56,737.59V740.16M320.51,737.59V740.16M340.41,737.59V740.16M345.38,737.59V740.16M240.92,740.16V742.73M250.87,740.16V742.73M255.85,740.16V742.73M260.82,740.16V742.73M265.79,740.16V742.73M270.77,740.16V742.73M280.72,740.16V742.73M305.59,740.16V742.73M310.56,740.16V742.73M320.51,740.16V742.73M315.54,742.73H320.51M325.48,742.73H330.46M340.41,740.16V742.73M345.38,740.16V742.73M340.41,742.73H345.38M240.92,742.73V745.29M250.87,742.73V745.29M255.85,742.73V745.29M260.82,742.73V745.29M265.79,742.73V745.29M270.77,742.73V745.29M280.72,742.73V745.29M305.59,742.73V745.29M310.56,742.73V745.29M315.54,742.73V745.29M325.48,742.73V745.29M330.46,742.73V745.29M325.48,745.29H330.46M240.92,745.29V747.86M250.87,745.29V747.86M255.85,745.29V747.86M260.82,745.29V747.86M265.79,745.29V747.86M270.77,745.29V747.86M280.72,745.29V747.86M305.59,745.29V747.86M310.56,745.29V747.86M315.54,745.29V747.86M240.92,747.86V750.43M250.87,747.86V750.43M255.85,747.86V750.43M260.82,747.86V750.43M265.79,747.86V750.43M270.77,747.86V750.43M280.72,747.86V750.43M305.59,747.86V750.43M310.56,747.86V750.43M315.54,747.86V750.43M315.54,750.43H320.51M320.51,750.43H325.48M325.48,750.43H330.46M330.46,750.43H335.43M335.43,750.43H340.41M345.38,750.43H350.35M350.35,750.43H355.33M355.33,750.43H360.30M360.30,750.43H365.28M365.28,750.43H370.25M370.25,750.43H375.23M240.92,750.43V753.00M250.87,750.43V753.00M255.85,750.43V753.00M260.82,750.43V753.00M265.79,750.43V753.00M270.77,750.43V753.00M280.72,750.43V753.00M305.59,750.43V753.00M310.56,750.43V753.00M340.41,750.43V753.00M345.38,750.43V753.00M240.92,753.00V755.57M250.87,753.00V755.57M255.85,753.00V755.57M260.82,753.00V755.57M265.79,753.00V755.57M270.77,753.00V755.57M280.72,753.00V755.57M285.69,755.57H290.66M290.66,755.57H295.64M305.59,753.00V755.57M310.56,753.00V755.57M340.41,753.00V755.57M345.38,753.00V755.57M240.92,755.57V758.14M250.87,755.57V758.14M255.85,755.57V758.14M260.82,755.57V758.14M265.79,755.57V758.14M270.77,755.57V758.14M280.72,755.57V758.14M285.69,755.57V758.14M280.72,758.14H285.69M295.64,755.57V758.14M295.64,758.14H300.61M305.59,755.57V758.14M300.61,758.14H305.59M310.56,755.57V758.14M310.56,758.14H315.54M340.41,755.57V758.14M345.38,755.57V758.14M365.28,758.14H370.25M240.92,758.14V760.71M250.87,758.14V760.71M255.85,758.14V760.71M260.82,758.14V760.71M265.79,758.14V760.71M270.77,758.14V760.71M280.72,758.14V760.71M315.54,758.14V760.71M340.41,758.14V760.71M345.38,758.14V760.71M365.28,758.14V760.71M370.25,758.14V760.71M240.92,760.71V763.27M250.87,760.71V763.27M255.85,760.71V763.27M260.82,760.71V763.27M265.79,760.71V763.27M270.77,760.71V763.27M280.72,760.71V763.27M280.72,763.27H285.69M300.61,763.27H305.59M315.54,760.71V763.27M340.41,760.71V763.27M345.38,760.71V763.27M365.28,760.71V763.27M360.30,763.27H365.28M370.25,760.71V763.27M240.92,763.27V765.84M250.87,763.27V765.84M255.85,763.27V765.84M260.82,763.27V765.84M265.79,763.27V765.84M270.77,763.27V765.84M280.72,763.27V765.84M285.69,763.27V765.84M300.61,763.27V765.84M305.59,763.27V765.84M315.54,763.27V765.84M340.41,763.27V765.84M345.38,763.27V765.84M340.41,765.84H345.38M350.35,765.84H355.33M360.30,763.27V765.84M355.33,765.84H360.30M360.30,765.84H365.28M370.25,763.27V765.84M230.97,768.41H235.95M240.92,765.84V768.41M235.95,768.41H240.92M250.87,765.84V768.41M255.85,765.84V768.41M260.82,765.84V768.41M265.79,765.84V768.41M270.77,765.84V768.41M280.72,765.84V768.41M285.69,765.84V768.41M300.61,765.84V768.41M305.59,765.84V768.41M300.61,768.41H305.59M315.54,765.84V768.41M315.54,768.41H320.51M330.46,768.41H335.43M335.43,768.41H340.41M350.35,765.84V768.41M360.30,765.84V768.41M365.28,765.84V768.41M370.25,765.84V768.41M365.28,768.41H370.25M230.97,768.41V770.98M250.87,768.41V770.98M255.85,768.41V770.98M260.82,768.41V770.98M265.79,768.41V770.98M270.77,768.41V770.98M280.72,768.41V770.98M285.69,768.41V770.98M320.51,768.41V770.98M315.54,770.98H320.51M330.46,768.41V770.98M340.41,768.41V770.98M350.35,768.41V770.98M360.30,768.41V770.98M370.25,770.98H375.23M230.97,770.98V773.55M250.87,770.98V773.55M255.85,770.98V773.55M260.82,770.98V773.55M265.79,770.98V773.55M270.77,770.98V773.55M280.72,770.98V773.55M285.69,770.98V773.55M280.72,773.55H285.69M315.54,770.98V773.55M315.54,773.55H320.51M330.46,770.98V773.55M325.48,773.55H330.46M340.41,770.98V773.55M350.35,770.98V773.55M360.30,770.98V773.55M370.25,770.98V773.55M230.97,773.55V776.12M226.00,776.12H230.97M250.87,773.55V776.12M255.85,773.55V776.12M250.87,776.12H255.85M260.82,773.55V776.12M265.79,773.55V776.12M260.82,776.12H265.79M270.77,773.55V776.12M270.77,776.12H275.74M280.72,773.55V776.12M285.69,776.12H290.66M300.61,776.12H305.59M320.51,773.55V776.12M315.54,776.12H320.51M325.48,773.55V776.12M325.48,776.12H330.46M330.46,776.12H335.43M340.41,773.55V776.12M335.43,776.12H340.41M350.35,773.55V776.12M350.35,776.12H355.33M360.30,773.55V776.12M355.33,776.12H360.30M370.25,773.55V776.12M275.74,776.12V778.69M280.72,776.12V778.69M275.74,778.69H280.72M285.69,776.12V778.69M290.66,776.12V778.69M300.61,776.12V778.69M295.64,778.69H300.61M305.59,776.12V778.69M315.54,776.12V778.69M370.25,776.12V778.69M285.69,778.69V781.26M290.66,778.69V781.26M285.69,781.26H290.66M295.64,778.69V781.26M295.64,781.26H300.61M305.59,778.69V781.26M300.61,781.26H305.59M315.54,778.69V781.26M330.46,781.26H335.43M370.25,778.69V781.26M315.54,781.26V783.82M315.54,783.82H320.51M320.51,783.82H325.48M330.46,781.26V783.82M325.48,783.82H330.46M335.43,781.26V783.82M350.35,783.82H355.33M355.33,783.82H360.30M370.25,781.26V783.82M365.28,783.82H370.25M335.43,783.82V786.39M335.43,786.39H340.41M350.35,783.82V786.39M345.38,786.39H350.35M360.30,783.82V786.39M365.28,783.82V786.39M360.30,786.39H365.28M340.41,786.39V788.96M345.38,786.39V788.96M340.41,788.96H345.38" fill="none" stroke="#fff" stroke-opacity="0.3" stroke-width="0.8"/>
<defs><linearGradient id="dg" x1="0" y1="0" x2="0" y2="1"><stop offset="0" stop-color="#16078a"/><stop offset="0.64" stop-color="#5002a2"/><stop offset="0.92" stop-color="#280592"/><stop offset="0.94" stop-color="#100788"/><stop offset="1" stop-color="#100788"/></linearGradient></defs>
<rect x="375.23" y="711.9" width="621.77" height="82.20" fill="url(#dg)"/>
<g shape-rendering="crispEdges" transform="translate(226.0,711.9) scale(4.974193548387097,2.56875)">
<rect x="30" y="2" width="1" height="9" fill="#a11b9b"/>
<rect x="30" y="11" width="1" height="4" fill="#e76e5b"/>
<rect x="30" y="15" width="1" height="7" fill="#a11b9b"/>
<rect x="31" y="3" width="1" height="19" fill="#a11b9b"/>
<rect x="32" y="3" width="1" height="15" fill="#a11b9b"/>
<rect x="32" y="20" width="1" height="1" fill="#a11b9b"/>
<rect x="33" y="4" width="1" height="14" fill="#a11b9b"/>
<rect x="34" y="4" width="1" height="15" fill="#a11b9b"/>
<rect x="35" y="4" width="1" height="14" fill="#a11b9b"/>
<rect x="36" y="4" width="1" height="14" fill="#a11b9b"/>
<rect x="36" y="19" width="1" height="3" fill="#a11b9b"/>
<rect x="36" y="25" width="1" height="1" fill="#a11b9b"/>
<rect x="37" y="4" width="1" height="12" fill="#a11b9b"/>
<rect x="37" y="19" width="1" height="2" fill="#a11b9b"/>
<rect x="38" y="0" width="1" height="27" fill="#0d0887"/>
<rect x="38" y="27" width="1" height="5" fill="#fff"/>
<rect x="39" y="8" width="1" height="1" fill="#a11b9b"/>
<rect x="39" y="10" width="1" height="6" fill="#a11b9b"/>
<rect x="40" y="5" width="1" height="11" fill="#a11b9b"/>
<rect x="40" y="18" width="1" height="4" fill="#a11b9b"/>
<rect x="41" y="6" width="1" height="3" fill="#a11b9b"/>
<rect x="41" y="13" width="1" height="4" fill="#a11b9b"/>
<rect x="41" y="20" width="1" height="2" fill="#a11b9b"/>
<rect x="42" y="6" width="1" height="3" fill="#a11b9b"/>
<rect x="42" y="13" width="1" height="2" fill="#a11b9b"/>
<rect x="43" y="11" width="1" height="6" fill="#a11b9b"/>
<rect x="43" y="21" width="1" height="1" fill="#a11b9b"/>
<rect x="44" y="21" width="1" height="1" fill="#a11b9b"/>
<rect x="45" y="8" width="1" height="1" fill="#a11b9b"/>
<rect x="45" y="19" width="1" height="4" fill="#a11b9b"/>
<rect x="46" y="14" width="1" height="1" fill="#a11b9b"/>
<rect x="46" y="19" width="1" height="4" fill="#a11b9b"/>
<rect x="47" y="20" width="1" height="2" fill="#a11b9b"/>
<rect x="48" y="12" width="1" height="4" fill="#a11b9b"/>
<rect x="49" y="19" width="1" height="3" fill="#a11b9b"/>
<rect x="50" y="18" width="1" height="4" fill="#a11b9b"/>
<rect x="51" y="18" width="1" height="4" fill="#a11b9b"/>
<rect x="52" y="8" width="1" height="1" fill="#a11b9b"/>
<rect x="52" y="10" width="1" height="12" fill="#a11b9b"/>
<rect x="52" y="27" width="1" height="2" fill="#a11b9b"/>
<rect x="53" y="14" width="1" height="9" fill="#a11b9b"/>
<rect x="53" y="25" width="1" height="4" fill="#a11b9b"/>
<rect x="54" y="14" width="1" height="8" fill="#a11b9b"/>
<rect x="55" y="13" width="1" height="9" fill="#a11b9b"/>
<rect x="56" y="13" width="1" height="17" fill="#a11b9b"/>
<rect x="57" y="14" width="1" height="16" fill="#a11b9b"/>
<rect x="58" y="15" width="1" height="7" fill="#a11b9b"/>
<rect x="59" y="11" width="1" height="19" fill="#a11b9b"/>
<rect x="60" y="12" width="1" height="18" fill="#a11b9b"/>
<rect x="61" y="15" width="1" height="14" fill="#a11b9b"/>
<rect x="62" y="17" width="1" height="5" fill="#a11b9b"/>
<rect x="63" y="13" width="1" height="16" fill="#a11b9b"/>
<rect x="64" y="15" width="1" height="14" fill="#a11b9b"/>
<rect x="65" y="17" width="1" height="5" fill="#a11b9b"/>
<rect x="66" y="16" width="1" height="14" fill="#a11b9b"/>
<rect x="67" y="15" width="1" height="15" fill="#a11b9b"/>
<rect x="68" y="5" width="1" height="15" fill="#a11b9b"/>
<rect x="68" y="20" width="1" height="1" fill="#e76e5b"/>
<rect x="68" y="21" width="1" height="2" fill="#a11b9b"/>
<rect x="68" y="25" width="1" height="5" fill="#a11b9b"/>
<rect x="69" y="5" width="1" height="18" fill="#a11b9b"/>
<rect x="69" y="25" width="1" height="2" fill="#a11b9b"/>
<rect x="70" y="5" width="1" height="22" fill="#a11b9b"/>
<rect x="71" y="13" width="1" height="17" fill="#a11b9b"/>
<rect x="72" y="16" width="1" height="6" fill="#a11b9b"/>
<rect x="73" y="16" width="1" height="14" fill="#a11b9b"/>
<rect x="74" y="14" width="1" height="16" fill="#a11b9b"/>
<rect x="75" y="16" width="1" height="13" fill="#a11b9b"/>
<rect x="76" y="16" width="1" height="7" fill="#a11b9b"/>
<rect x="76" y="25" width="1" height="5" fill="#a11b9b"/>
<rect x="77" y="12" width="1" height="18" fill="#a11b9b"/>
<rect x="78" y="12" width="1" height="11" fill="#a11b9b"/>
<rect x="78" y="25" width="1" height="5" fill="#a11b9b"/>
<rect x="79" y="12" width="1" height="11" fill="#a11b9b"/>
<rect x="79" y="25" width="1" height="5" fill="#a11b9b"/>
<rect x="80" y="12" width="1" height="18" fill="#a11b9b"/>
<rect x="81" y="14" width="1" height="16" fill="#a11b9b"/>
<rect x="82" y="7" width="1" height="1" fill="#a11b9b"/>
<rect x="82" y="15" width="1" height="15" fill="#a11b9b"/>
<rect x="83" y="14" width="1" height="5" fill="#a11b9b"/>
<rect x="83" y="19" width="1" height="2" fill="#e76e5b"/>
<rect x="83" y="21" width="1" height="9" fill="#a11b9b"/>
<rect x="84" y="15" width="1" height="15" fill="#a11b9b"/>
<rect x="85" y="15" width="1" height="15" fill="#a11b9b"/>
<rect x="86" y="16" width="1" height="14" fill="#a11b9b"/>
<rect x="87" y="14" width="1" height="16" fill="#a11b9b"/>
<rect x="88" y="14" width="1" height="16" fill="#a11b9b"/>
<rect x="89" y="15" width="1" height="15" fill="#a11b9b"/>
<rect x="90" y="14" width="1" height="16" fill="#a11b9b"/>
<rect x="91" y="0" width="1" height="27" fill="#fff"/>
<rect x="91" y="27" width="1" height="5" fill="#0d0887"/>
<rect x="92" y="15" width="1" height="5" fill="#a11b9b"/>
<rect x="92" y="20" width="1" height="1" fill="#e76e5b"/>
<rect x="92" y="21" width="1" height="9" fill="#a11b9b"/>
<rect x="93" y="5" width="1" height="15" fill="#a11b9b"/>
<rect x="93" y="20" width="1" height="1" fill="#e76e5b"/>
<rect x="93" y="21" width="1" height="9" fill="#a11b9b"/>
<rect x="94" y="3" width="1" height="14" fill="#a11b9b"/>
<rect x="94" y="17" width="1" height="3" fill="#e76e5b"/>
<rect x="94" y="20" width="1" height="1" fill="#f7e425"/>
<rect x="94" y="21" width="1" height="9" fill="#e76e5b"/>
<rect x="95" y="13" width="1" height="17" fill="#a11b9b"/>
<rect x="96" y="15" width="1" height="5" fill="#a11b9b"/>
<rect x="96" y="20" width="1" height="2" fill="#e76e5b"/>
<rect x="96" y="22" width="1" height="8" fill="#a11b9b"/>
<rect x="97" y="15" width="1" height="15" fill="#a11b9b"/>
<rect x="98" y="6" width="1" height="14" fill="#a11b9b"/>
<rect x="98" y="20" width="1" height="1" fill="#e76e5b"/>
<rect x="98" y="21" width="1" height="9" fill="#a11b9b"/>
<rect x="99" y="13" width="1" height="6" fill="#a11b9b"/>
<rect x="99" y="19" width="1" height="3" fill="#e76e5b"/>
<rect x="99" y="22" width="1" height="8" fill="#a11b9b"/>
<rect x="100" y="13" width="1" height="6" fill="#a11b9b"/>
<rect x="100" y="19" width="1" height="3" fill="#e76e5b"/>
<rect x="100" y="22" width="1" height="8" fill="#a11b9b"/>
<rect x="101" y="7" width="1" height="11" fill="#a11b9b"/>
<rect x="101" y="18" width="1" height="5" fill="#e76e5b"/>
<rect x="101" y="23" width="1" height="3" fill="#a11b9b"/>
<rect x="101" y="26" width="1" height="1" fill="#e76e5b"/>
<rect x="101" y="27" width="1" height="3" fill="#a11b9b"/>
<rect x="102" y="6" width="1" height="12" fill="#a11b9b"/>
<rect x="102" y="18" width="1" height="2" fill="#e76e5b"/>
<rect x="102" y="20" width="1" height="1" fill="#f7e425"/>
<rect x="102" y="21" width="1" height="2" fill="#e76e5b"/>
<rect x="102" y="23" width="1" height="7" fill="#a11b9b"/>
<rect x="103" y="12" width="1" height="6" fill="#a11b9b"/>
<rect x="103" y="18" width="1" height="4" fill="#e76e5b"/>
<rect x="103" y="22" width="1" height="8" fill="#a11b9b"/>
<rect x="104" y="11" width="1" height="7" fill="#a11b9b"/>
<rect x="104" y="18" width="1" height="3" fill="#e76e5b"/>
<rect x="104" y="21" width="1" height="9" fill="#a11b9b"/>
<rect x="105" y="11" width="1" height="8" fill="#a11b9b"/>
<rect x="105" y="19" width="1" height="3" fill="#e76e5b"/>
<rect x="105" y="22" width="1" height="8" fill="#a11b9b"/>
<rect x="106" y="10" width="1" height="8" fill="#a11b9b"/>
<rect x="106" y="18" width="1" height="1" fill="#e76e5b"/>
<rect x="106" y="19" width="1" height="3" fill="#f7e425"/>
<rect x="106" y="22" width="1" height="5" fill="#e76e5b"/>
<rect x="106" y="27" width="1" height="3" fill="#a11b9b"/>
<rect x="107" y="12" width="1" height="7" fill="#a11b9b"/>
<rect x="107" y="19" width="1" height="3" fill="#e76e5b"/>
<rect x="107" y="22" width="1" height="8" fill="#a11b9b"/>
<rect x="108" y="13" width="1" height="6" fill="#a11b9b"/>
<rect x="108" y="19" width="1" height="2" fill="#e76e5b"/>
<rect x="108" y="21" width="1" height="9" fill="#a11b9b"/>
<rect x="109" y="11" width="1" height="7" fill="#a11b9b"/>
<rect x="109" y="18" width="1" height="2" fill="#e76e5b"/>
<rect x="109" y="20" width="1" height="1" fill="#f7e425"/>
<rect x="109" y="21" width="1" height="2" fill="#e76e5b"/>
<rect x="109" y="23" width="1" height="7" fill="#a11b9b"/>
<rect x="110" y="11" width="1" height="7" fill="#a11b9b"/>
<rect x="110" y="18" width="1" height="1" fill="#e76e5b"/>
<rect x="110" y="19" width="1" height="2" fill="#f7e425"/>
<rect x="110" y="21" width="1" height="6" fill="#e76e5b"/>
<rect x="110" y="27" width="1" height="3" fill="#a11b9b"/>
<rect x="111" y="16" width="1" height="2" fill="#a11b9b"/>
<rect x="111" y="18" width="1" height="3" fill="#e76e5b"/>
<rect x="111" y="21" width="1" height="8" fill="#a11b9b"/>
<rect x="112" y="14" width="1" height="5" fill="#a11b9b"/>
<rect x="112" y="19" width="1" height="2" fill="#e76e5b"/>
<rect x="112" y="21" width="1" height="8" fill="#a11b9b"/>
<rect x="113" y="14" width="1" height="6" fill="#a11b9b"/>
<rect x="113" y="20" width="1" height="1" fill="#e76e5b"/>
<rect x="113" y="21" width="1" height="6" fill="#a11b9b"/>
<rect x="114" y="17" width="1" height="3" fill="#a11b9b"/>
<rect x="114" y="20" width="1" height="1" fill="#e76e5b"/>
<rect x="114" y="21" width="1" height="7" fill="#a11b9b"/>
<rect x="115" y="16" width="1" height="4" fill="#a11b9b"/>
<rect x="115" y="20" width="1" height="1" fill="#e76e5b"/>
<rect x="115" y="21" width="1" height="5" fill="#a11b9b"/>
<rect x="116" y="16" width="1" height="4" fill="#a11b9b"/>
<rect x="116" y="20" width="1" height="1" fill="#e76e5b"/>
<rect x="116" y="21" width="1" height="5" fill="#a11b9b"/>
<rect x="117" y="16" width="1" height="4" fill="#a11b9b"/>
<rect x="117" y="20" width="1" height="1" fill="#e76e5b"/>
<rect x="117" y="21" width="1" height="8" fill="#a11b9b"/>
<rect x="118" y="17" width="1" height="3" fill="#a11b9b"/>
<rect x="118" y="20" width="1" height="2" fill="#e76e5b"/>
<rect x="118" y="22" width="1" height="7" fill="#a11b9b"/>
<rect x="119" y="18" width="1" height="8" fill="#a11b9b"/>
<rect x="120" y="17" width="1" height="10" fill="#a11b9b"/>
<rect x="121" y="18" width="1" height="7" fill="#a11b9b"/>
<rect x="122" y="0" width="1" height="26" fill="#0d0887"/>
<rect x="122" y="26" width="1" height="6" fill="#fff"/>
<rect x="123" y="18" width="1" height="6" fill="#a11b9b"/>
<rect x="124" y="17" width="1" height="9" fill="#a11b9b"/>
<rect x="125" y="16" width="1" height="14" fill="#a11b9b"/>
<rect x="126" y="16" width="1" height="3" fill="#a11b9b"/>
<rect x="126" y="19" width="1" height="3" fill="#e76e5b"/>
<rect x="126" y="22" width="1" height="8" fill="#a11b9b"/>
<rect x="127" y="18" width="1" height="9" fill="#a11b9b"/>
<rect x="128" y="0" width="1" height="26" fill="#0d0887"/>
<rect x="128" y="26" width="1" height="6" fill="#fff"/>
<rect x="129" y="18" width="1" height="4" fill="#a11b9b"/>
<rect x="129" y="23" width="1" height="4" fill="#a11b9b"/>
<rect x="130" y="18" width="1" height="9" fill="#a11b9b"/>
<rect x="131" y="0" width="1" height="26" fill="#0d0887"/>
<rect x="131" y="26" width="1" height="6" fill="#fff"/>
<rect x="132" y="18" width="1" height="6" fill="#a11b9b"/>
<rect x="133" y="18" width="1" height="7" fill="#a11b9b"/>
<rect x="134" y="18" width="1" height="9" fill="#a11b9b"/>
<rect x="135" y="18" width="1" height="8" fill="#a11b9b"/>
<rect x="136" y="20" width="1" height="3" fill="#a11b9b"/>
<rect x="137" y="0" width="1" height="26" fill="#0d0887"/>
<rect x="137" y="26" width="1" height="6" fill="#fff"/>
<rect x="138" y="16" width="1" height="14" fill="#a11b9b"/>
<rect x="139" y="18" width="1" height="7" fill="#a11b9b"/>
<rect x="140" y="18" width="1" height="7" fill="#a11b9b"/>
<rect x="141" y="20" width="1" height="3" fill="#a11b9b"/>
<rect x="142" y="20" width="1" height="3" fill="#a11b9b"/>
<rect x="144" y="19" width="1" height="6" fill="#a11b9b"/>
<rect x="145" y="19" width="1" height="6" fill="#a11b9b"/>
<rect x="146" y="0" width="1" height="26" fill="#0d0887"/>
<rect x="146" y="26" width="1" height="6" fill="#fff"/>
<rect x="147" y="18" width="1" height="9" fill="#a11b9b"/>
<rect x="153" y="26" width="1" height="6" fill="#fff"/>
<rect x="154" y="26" width="1" height="6" fill="#fff"/>
</g>
<path d="M678.65,711.90V714.47M683.63,711.90V714.47M375.23,717.04H380.20M678.65,714.47V717.04M683.63,714.47V717.04M380.20,717.04V719.61M380.20,719.61H385.17M385.17,719.61H390.15M678.65,717.04V719.61M683.63,717.04V719.61M693.57,719.61H698.55M390.15,719.61V722.17M390.15,722.17H395.12M395.12,722.17H400.10M400.10,722.17H405.07M405.07,722.17H410.05M410.05,722.17H415.02M678.65,719.61V722.17M683.63,719.61V722.17M693.57,719.61V722.17M698.55,719.61V722.17M415.02,722.17V724.74M424.97,724.74H429.94M564.25,724.74H569.22M569.22,724.74H574.19M574.19,724.74H579.17M678.65,722.17V724.74M683.63,722.17V724.74M693.57,722.17V724.74M688.60,724.74H693.57M698.55,722.17V724.74M415.02,724.74V727.31M424.97,724.74V727.31M429.94,724.74V727.31M429.94,727.31H434.92M434.92,727.31H439.89M564.25,724.74V727.31M579.17,724.74V727.31M678.65,724.74V727.31M683.63,724.74V727.31M688.60,724.74V727.31M698.55,724.74V727.31M713.47,727.31H718.45M733.37,727.31H738.34M415.02,727.31V729.88M424.97,727.31V729.88M439.89,727.31V729.88M564.25,727.31V729.88M579.17,727.31V729.88M633.88,729.88H638.86M678.65,727.31V729.88M683.63,727.31V729.88M688.60,727.31V729.88M698.55,727.31V729.88M713.47,727.31V729.88M718.45,727.31V729.88M733.37,727.31V729.88M728.39,729.88H733.37M738.34,727.31V729.88M415.02,729.88V732.45M424.97,729.88V732.45M419.99,732.45H424.97M439.89,729.88V732.45M449.84,732.45H454.81M484.66,732.45H489.63M564.25,729.88V732.45M579.17,729.88V732.45M633.88,729.88V732.45M638.86,729.88V732.45M633.88,732.45H638.86M678.65,729.88V732.45M683.63,729.88V732.45M688.60,729.88V732.45M698.55,729.88V732.45M713.47,729.88V732.45M718.45,729.88V732.45M728.39,729.88V732.45M738.34,729.88V732.45M415.02,732.45V735.02M419.99,732.45V735.02M419.99,735.02H424.97M429.94,735.02H434.92M439.89,732.45V735.02M434.92,735.02H439.89M449.84,732.45V735.02M454.81,732.45V735.02M449.84,735.02H454.81M484.66,732.45V735.02M489.63,732.45V735.02M484.66,735.02H489.63M564.25,732.45V735.02M579.17,732.45V735.02M678.65,732.45V735.02M683.63,732.45V735.02M688.60,732.45V735.02M698.55,732.45V735.02M713.47,732.45V735.02M718.45,732.45V735.02M728.39,732.45V735.02M738.34,732.45V735.02M415.02,735.02V737.59M424.97,735.02V737.59M419.99,737.59H424.97M429.94,735.02V737.59M484.66,737.59H489.63M564.25,735.02V737.59M579.17,735.02V737.59M678.65,735.02V737.59M683.63,735.02V737.59M688.60,735.02V737.59M698.55,735.02V737.59M713.47,735.02V737.59M718.45,735.02V737.59M728.39,735.02V737.59M738.34,735.02V737.59M753.26,737.59H758.24M375.23,740.16H380.20M415.02,737.59V740.16M419.99,737.59V740.16M429.94,737.59V740.16M439.89,740.16H444.86M484.66,737.59V740.16M489.63,737.59V740.16M519.48,740.16H524.45M564.25,737.59V740.16M579.17,737.59V740.16M678.65,737.59V740.16M683.63,737.59V740.16M688.60,737.59V740.16M698.55,737.59V740.16M713.47,737.59V740.16M718.45,737.59V740.16M728.39,737.59V740.16M738.34,737.59V740.16M743.32,740.16H748.29M753.26,737.59V740.16M748.29,740.16H753.26M758.24,737.59V740.16M768.19,740.16H773.16M773.16,740.16H778.14M380.20,740.16V742.73M415.02,740.16V742.73M419.99,740.16V742.73M429.94,740.16V742.73M439.89,740.16V742.73M444.86,740.16V742.73M464.76,742.73H469.74M484.66,740.16V742.73M489.63,740.16V742.73M519.48,740.16V742.73M524.45,740.16V742.73M524.45,742.73H529.43M564.25,740.16V742.73M579.17,740.16V742.73M609.01,742.73H613.99M613.99,742.73H618.96M618.96,742.73H623.94M623.94,742.73H628.91M678.65,740.16V742.73M683.63,740.16V742.73M688.60,740.16V742.73M698.55,740.16V742.73M713.47,740.16V742.73M718.45,740.16V742.73M728.39,740.16V742.73M738.34,740.16V742.73M743.32,740.16V742.73M738.34,742.73H743.32M758.24,740.16V742.73M758.24,742.73H763.21M768.19,740.16V742.73M778.14,740.16V742.73M380.20,742.73V745.29M415.02,742.73V745.29M419.99,742.73V745.29M429.94,742.73V745.29M429.94,745.29H434.92M439.89,742.73V745.29M434.92,745.29H439.89M444.86,742.73V745.29M464.76,742.73V745.29M469.74,742.73V745.29M484.66,742.73V745.29M489.63,742.73V745.29M499.58,745.29H504.55M504.55,745.29H509.53M519.48,742.73V745.29M529.43,742.73V745.29M539.37,745.29H544.35M564.25,742.73V745.29M579.17,742.73V745.29M579.17,745.29H584.14M609.01,742.73V745.29M628.91,742.73V745.29M678.65,742.73V745.29M683.63,742.73V745.29M688.60,742.73V745.29M698.55,742.73V745.29M698.55,745.29H703.52M713.47,742.73V745.29M718.45,742.73V745.29M718.45,745.29H723.42M728.39,742.73V745.29M723.42,745.29H728.39M763.21,742.73V745.29M768.19,742.73V745.29M763.21,745.29H768.19M778.14,742.73V745.29M380.20,745.29V747.86M415.02,745.29V747.86M419.99,745.29V747.86M444.86,745.29V747.86M454.81,747.86H459.79M464.76,745.29V747.86M469.74,745.29V747.86M484.66,745.29V747.86M489.63,745.29V747.86M489.63,747.86H494.61M499.58,745.29V747.86M494.61,747.86H499.58M509.53,745.29V747.86M509.53,747.86H514.50M519.48,745.29V747.86M529.43,745.29V747.86M539.37,745.29V747.86M544.35,745.29V747.86M564.25,745.29V747.86M584.14,745.29V747.86M594.09,747.86H599.06M609.01,745.29V747.86M628.91,745.29V747.86M628.91,747.86H633.88M638.86,747.86H643.83M658.75,747.86H663.73M663.73,747.86H668.70M678.65,745.29V747.86M673.68,747.86H678.65M683.63,745.29V747.86M688.60,745.29V747.86M703.52,745.29V747.86M713.47,745.29V747.86M778.14,745.29V747.86M783.11,747.86H788.08M788.08,747.86H793.06M380.20,747.86V750.43M375.23,750.43H380.20M415.02,747.86V750.43M419.99,747.86V750.43M434.92,750.43H439.89M444.86,747.86V750.43M454.81,747.86V750.43M459.79,747.86V750.43M454.81,750.43H459.79M464.76,747.86V750.43M469.74,747.86V750.43M484.66,747.86V750.43M514.50,747.86V750.43M519.48,747.86V750.43M514.50,750.43H519.48M529.43,747.86V750.43M529.43,750.43H534.40M539.37,747.86V750.43M544.35,747.86V750.43M544.35,750.43H549.32M564.25,747.86V750.43M559.27,750.43H564.25M584.14,747.86V750.43M594.09,747.86V750.43M599.06,747.86V750.43M609.01,747.86V750.43M633.88,747.86V750.43M638.86,747.86V750.43M633.88,750.43H638.86M643.83,747.86V750.43M643.83,750.43H648.81M648.81,750.43H653.78M658.75,747.86V750.43M668.70,747.86V750.43M673.68,747.86V750.43M668.70,750.43H673.68M678.65,747.86V750.43M683.63,747.86V750.43M688.60,747.86V750.43M683.63,750.43H688.60M703.52,747.86V750.43M703.52,750.43H708.50M713.47,747.86V750.43M708.50,750.43H713.47M778.14,747.86V750.43M783.11,747.86V750.43M793.06,747.86V750.43M415.02,750.43V753.00M410.05,753.00H415.02M419.99,750.43V753.00M419.99,753.00H424.97M424.97,753.00H429.94M434.92,750.43V753.00M439.89,750.43V753.00M444.86,750.43V753.00M464.76,750.43V753.00M469.74,750.43V753.00M464.76,753.00H469.74M484.66,750.43V753.00M534.40,750.43V753.00M539.37,750.43V753.00M549.32,750.43V753.00M559.27,750.43V753.00M554.30,753.00H559.27M584.14,750.43V753.00M584.14,753.00H589.12M594.09,750.43V753.00M589.12,753.00H594.09M599.06,750.43V753.00M599.06,753.00H604.04M609.01,750.43V753.00M604.04,753.00H609.01M653.78,750.43V753.00M658.75,750.43V753.00M653.78,753.00H658.75M678.65,750.43V753.00M683.63,750.43V753.00M778.14,750.43V753.00M783.11,750.43V753.00M778.14,753.00H783.11M793.06,750.43V753.00M798.03,753.00H803.01M803.01,753.00H807.98M807.98,753.00H812.95M847.77,753.00H852.75M852.75,753.00H857.72M912.44,753.00H917.41M410.05,753.00V755.57M429.94,753.00V755.57M434.92,753.00V755.57M429.94,755.57H434.92M439.89,753.00V755.57M444.86,753.00V755.57M439.89,755.57H444.86M484.66,753.00V755.57M534.40,753.00V755.57M539.37,753.00V755.57M534.40,755.57H539.37M549.32,753.00V755.57M554.30,753.00V755.57M549.32,755.57H554.30M678.65,753.00V755.57M683.63,753.00V755.57M693.57,755.57H698.55M793.06,753.00V755.57M798.03,753.00V755.57M793.06,755.57H798.03M812.95,753.00V755.57M812.95,755.57H817.93M822.90,755.57H827.88M847.77,753.00V755.57M842.80,755.57H847.77M857.72,753.00V755.57M912.44,753.00V755.57M917.41,753.00V755.57M385.17,758.14H390.15M390.15,758.14H395.12M400.10,758.14H405.07M410.05,755.57V758.14M405.07,758.14H410.05M424.97,758.14H429.94M474.71,758.14H479.68M484.66,755.57V758.14M479.68,758.14H484.66M678.65,755.57V758.14M683.63,755.57V758.14M693.57,755.57V758.14M698.55,755.57V758.14M728.39,758.14H733.37M733.37,758.14H738.34M738.34,758.14H743.32M743.32,758.14H748.29M753.26,758.14H758.24M768.19,758.14H773.16M773.16,758.14H778.14M778.14,758.14H783.11M817.93,755.57V758.14M822.90,755.57V758.14M817.93,758.14H822.90M827.88,755.57V758.14M827.88,758.14H832.85M842.80,755.57V758.14M837.83,758.14H842.80M857.72,755.57V758.14M857.72,758.14H862.70M867.67,758.14H872.65M872.65,758.14H877.62M882.59,758.14H887.57M887.57,758.14H892.54M892.54,758.14H897.52M897.52,758.14H902.49M912.44,755.57V758.14M917.41,755.57V758.14M917.41,758.14H922.39M922.39,758.14H927.36M957.21,758.14H962.18M385.17,758.14V760.71M395.12,758.14V760.71M400.10,758.14V760.71M395.12,760.71H400.10M405.07,760.71H410.05M410.05,760.71H415.02M424.97,758.14V760.71M429.94,758.14V760.71M449.84,760.71H454.81M454.81,760.71H459.79M474.71,758.14V760.71M469.74,760.71H474.71M638.86,760.71H643.83M678.65,758.14V760.71M683.63,758.14V760.71M693.57,758.14V760.71M698.55,758.14V760.71M718.45,760.71H723.42M728.39,758.14V760.71M723.42,760.71H728.39M748.29,758.14V760.71M753.26,758.14V760.71M748.29,760.71H753.26M758.24,758.14V760.71M753.26,760.71H758.24M758.24,760.71H763.21M768.19,758.14V760.71M763.21,760.71H768.19M773.16,760.71H778.14M783.11,758.14V760.71M783.11,760.71H788.08M832.85,758.14V760.71M837.83,758.14V760.71M852.75,760.71H857.72M862.70,758.14V760.71M867.67,758.14V760.71M877.62,758.14V760.71M882.59,758.14V760.71M902.49,758.14V760.71M912.44,758.14V760.71M927.36,758.14V760.71M942.28,760.71H947.26M947.26,760.71H952.23M957.21,758.14V760.71M962.18,758.14V760.71M385.17,760.71V763.27M385.17,763.27H390.15M405.07,760.71V763.27M415.02,760.71V763.27M424.97,760.71V763.27M429.94,760.71V763.27M429.94,763.27H434.92M449.84,760.71V763.27M459.79,760.71V763.27M459.79,763.27H464.76M469.74,760.71V763.27M564.25,763.27H569.22M638.86,760.71V763.27M643.83,760.71V763.27M678.65,760.71V763.27M683.63,760.71V763.27M683.63,763.27H688.60M693.57,760.71V763.27M688.60,763.27H693.57M698.55,760.71V763.27M693.57,763.27H698.55M703.52,763.27H708.50M718.45,760.71V763.27M713.47,763.27H718.45M733.37,763.27H738.34M753.26,760.71V763.27M758.24,760.71V763.27M773.16,760.71V763.27M768.19,763.27H773.16M778.14,760.71V763.27M788.08,760.71V763.27M788.08,763.27H793.06M793.06,763.27H798.03M798.03,763.27H803.01M803.01,763.27H807.98M807.98,763.27H812.95M812.95,763.27H817.93M832.85,760.71V763.27M837.83,760.71V763.27M852.75,760.71V763.27M857.72,760.71V763.27M862.70,760.71V763.27M867.67,760.71V763.27M877.62,760.71V763.27M882.59,760.71V763.27M902.49,760.71V763.27M902.49,763.27H907.46M912.44,760.71V763.27M927.36,760.71V763.27M927.36,763.27H932.34M932.34,763.27H937.31M942.28,760.71V763.27M952.23,760.71V763.27M957.21,760.71V763.27M962.18,760.71V763.27M390.15,763.27V765.84M385.17,765.84H390.15M405.07,763.27V765.84M415.02,763.27V765.84M410.05,765.84H415.02M424.97,763.27V765.84M434.92,763.27V765.84M439.89,765.84H444.86M449.84,763.27V765.84M444.86,765.84H449.84M464.76,763.27V765.84M469.74,763.27V765.84M564.25,763.27V765.84M569.22,763.27V765.84M564.25,765.84H569.22M638.86,763.27V765.84M643.83,763.27V765.84M638.86,765.84H643.83M678.65,763.27V765.84M683.63,763.27V765.84M683.63,765.84H688.60M693.57,763.27V765.84M688.60,765.84H693.57M698.55,763.27V765.84M693.57,765.84H698.55M703.52,763.27V765.84M708.50,763.27V765.84M713.47,763.27V765.84M713.47,765.84H718.45M733.37,763.27V765.84M738.34,763.27V765.84M733.37,765.84H738.34M743.32,765.84H748.29M753.26,763.27V765.84M758.24,763.27V765.84M768.19,763.27V765.84M763.21,765.84H768.19M768.19,765.84H773.16M778.14,763.27V765.84M773.16,765.84H778.14M778.14,765.84H783.11M783.11,765.84H788.08M788.08,765.84H793.06M793.06,765.84H798.03M798.03,765.84H803.01M803.01,765.84H807.98M807.98,765.84H812.95M817.93,763.27V765.84M832.85,763.27V765.84M837.83,763.27V765.84M852.75,763.27V765.84M857.72,763.27V765.84M862.70,763.27V765.84M867.67,763.27V765.84M877.62,763.27V765.84M882.59,763.27V765.84M907.46,763.27V765.84M912.44,763.27V765.84M937.31,763.27V765.84M942.28,763.27V765.84M952.23,763.27V765.84M957.21,763.27V765.84M962.18,763.27V765.84M375.23,768.41H380.20M385.17,765.84V768.41M380.20,768.41H385.17M405.07,765.84V768.41M410.05,765.84V768.41M405.07,768.41H410.05M424.97,765.84V768.41M424.97,768.41H429.94M434.92,765.84V768.41M429.94,768.41H434.92M439.89,765.84V768.41M439.89,768.41H444.86M444.86,768.41H449.84M464.76,765.84V768.41M459.79,768.41H464.76M469.74,765.84V768.41M469.74,768.41H474.71M474.71,768.41H479.68M479.68,768.41H484.66M484.66,768.41H489.63M494.61,768.41H499.58M499.58,768.41H504.55M514.50,768.41H519.48M534.40,768.41H539.37M549.32,768.41H554.30M584.14,768.41H589.12M678.65,765.84V768.41M683.63,765.84V768.41M693.57,765.84V768.41M698.55,765.84V768.41M703.52,765.84V768.41M708.50,765.84V768.41M703.52,768.41H708.50M718.45,765.84V768.41M718.45,768.41H723.42M723.42,768.41H728.39M743.32,765.84V768.41M738.34,768.41H743.32M748.29,765.84V768.41M753.26,765.84V768.41M748.29,768.41H753.26M758.24,765.84V768.41M753.26,768.41H758.24M763.21,765.84V768.41M758.24,768.41H763.21M768.19,765.84V768.41M778.14,765.84V768.41M812.95,765.84V768.41M817.93,765.84V768.41M812.95,768.41H817.93M832.85,765.84V768.41M837.83,765.84V768.41M852.75,765.84V768.41M857.72,765.84V768.41M852.75,768.41H857.72M862.70,765.84V768.41M867.67,765.84V768.41M867.67,768.41H872.65M877.62,765.84V768.41M882.59,765.84V768.41M907.46,765.84V768.41M912.44,765.84V768.41M937.31,765.84V768.41M942.28,765.84V768.41M952.23,765.84V768.41M957.21,765.84V768.41M962.18,765.84V768.41M449.84,768.41V770.98M449.84,770.98H454.81M459.79,768.41V770.98M454.81,770.98H459.79M489.63,768.41V770.98M494.61,768.41V770.98M489.63,770.98H494.61M504.55,768.41V770.98M514.50,768.41V770.98M519.48,768.41V770.98M534.40,768.41V770.98M539.37,768.41V770.98M549.32,768.41V770.98M554.30,768.41V770.98M564.25,770.98H569.22M569.22,770.98H574.19M584.14,768.41V770.98M589.12,768.41V770.98M604.04,770.98H609.01M613.99,770.98H618.96M618.96,770.98H623.94M678.65,768.41V770.98M683.63,768.41V770.98M693.57,768.41V770.98M698.55,768.41V770.98M728.39,768.41V770.98M728.39,770.98H733.37M738.34,768.41V770.98M733.37,770.98H738.34M753.26,768.41V770.98M758.24,768.41V770.98M768.19,768.41V770.98M768.19,770.98H773.16M778.14,768.41V770.98M832.85,768.41V770.98M837.83,768.41V770.98M862.70,768.41V770.98M872.65,768.41V770.98M867.67,770.98H872.65M877.62,768.41V770.98M882.59,768.41V770.98M907.46,768.41V770.98M902.49,770.98H907.46M912.44,768.41V770.98M927.36,770.98H932.34M937.31,768.41V770.98M932.34,770.98H937.31M942.28,768.41V770.98M952.23,768.41V770.98M957.21,768.41V770.98M962.18,768.41V770.98M504.55,770.98V773.55M514.50,770.98V773.55M519.48,770.98V773.55M534.40,770.98V773.55M539.37,770.98V773.55M549.32,770.98V773.55M554.30,770.98V773.55M564.25,770.98V773.55M574.19,770.98V773.55M584.14,770.98V773.55M589.12,770.98V773.55M604.04,770.98V773.55M609.01,770.98V773.55M613.99,770.98V773.55M623.94,770.98V773.55M678.65,770.98V773.55M683.63,770.98V773.55M693.57,770.98V773.55M698.55,770.98V773.55M753.26,770.98V773.55M758.24,770.98V773.55M773.16,770.98V773.55M778.14,770.98V773.55M832.85,770.98V773.55M837.83,770.98V773.55M837.83,773.55H842.80M862.70,770.98V773.55M867.67,770.98V773.55M877.62,770.98V773.55M882.59,770.98V773.55M882.59,773.55H887.57M902.49,770.98V773.55M912.44,770.98V773.55M927.36,770.98V773.55M942.28,770.98V773.55M952.23,770.98V773.55M957.21,770.98V773.55M962.18,770.98V773.55M405.07,776.12H410.05M489.63,776.12H494.61M504.55,773.55V776.12M514.50,773.55V776.12M519.48,773.55V776.12M534.40,773.55V776.12M539.37,773.55V776.12M549.32,773.55V776.12M554.30,773.55V776.12M564.25,773.55V776.12M564.25,776.12H569.22M574.19,773.55V776.12M569.22,776.12H574.19M584.14,773.55V776.12M589.12,773.55V776.12M604.04,773.55V776.12M609.01,773.55V776.12M604.04,776.12H609.01M613.99,773.55V776.12M613.99,776.12H618.96M623.94,773.55V776.12M618.96,776.12H623.94M678.65,773.55V776.12M683.63,773.55V776.12M693.57,773.55V776.12M698.55,773.55V776.12M753.26,773.55V776.12M758.24,773.55V776.12M773.16,773.55V776.12M778.14,773.55V776.12M832.85,773.55V776.12M827.88,776.12H832.85M842.80,773.55V776.12M862.70,773.55V776.12M867.67,773.55V776.12M877.62,773.55V776.12M887.57,773.55V776.12M887.57,776.12H892.54M902.49,773.55V776.12M912.44,773.55V776.12M917.41,776.12H922.39M927.36,773.55V776.12M922.39,776.12H927.36M942.28,773.55V776.12M942.28,776.12H947.26M952.23,773.55V776.12M947.26,776.12H952.23M957.21,773.55V776.12M962.18,773.55V776.12M405.07,776.12V778.69M410.05,776.12V778.69M405.07,778.69H410.05M489.63,776.12V778.69M494.61,776.12V778.69M504.55,776.12V778.69M514.50,776.12V778.69M519.48,776.12V778.69M534.40,776.12V778.69M539.37,776.12V778.69M549.32,776.12V778.69M554.30,776.12V778.69M584.14,776.12V778.69M589.12,776.12V778.69M678.65,776.12V778.69M683.63,776.12V778.69M693.57,776.12V778.69M698.55,776.12V778.69M728.39,778.69H733.37M753.26,776.12V778.69M758.24,776.12V778.69M773.16,776.12V778.69M778.14,776.12V778.69M798.03,778.69H803.01M803.01,778.69H807.98M817.93,778.69H822.90M827.88,776.12V778.69M832.85,778.69H837.83M842.80,776.12V778.69M842.80,778.69H847.77M862.70,776.12V778.69M867.67,776.12V778.69M862.70,778.69H867.67M877.62,776.12V778.69M877.62,778.69H882.59M892.54,776.12V778.69M902.49,776.12V778.69M897.52,778.69H902.49M912.44,776.12V778.69M907.46,778.69H912.44M917.41,776.12V778.69M957.21,776.12V778.69M952.23,778.69H957.21M962.18,776.12V778.69M987.05,778.69H992.03M992.03,778.69H997.00M415.02,781.26H419.99M489.63,778.69V781.26M484.66,781.26H489.63M494.61,778.69V781.26M504.55,778.69V781.26M514.50,778.69V781.26M519.48,778.69V781.26M534.40,778.69V781.26M539.37,778.69V781.26M549.32,778.69V781.26M554.30,778.69V781.26M569.22,781.26H574.19M574.19,781.26H579.17M584.14,778.69V781.26M589.12,778.69V781.26M678.65,778.69V781.26M683.63,778.69V781.26M678.65,781.26H683.63M693.57,778.69V781.26M698.55,778.69V781.26M728.39,778.69V781.26M733.37,778.69V781.26M728.39,781.26H733.37M753.26,778.69V781.26M758.24,778.69V781.26M753.26,781.26H758.24M773.16,778.69V781.26M778.14,778.69V781.26M773.16,781.26H778.14M788.08,781.26H793.06M798.03,778.69V781.26M807.98,778.69V781.26M817.93,778.69V781.26M822.90,778.69V781.26M827.88,778.69V781.26M822.90,781.26H827.88M832.85,778.69V781.26M837.83,778.69V781.26M847.77,778.69V781.26M862.70,778.69V781.26M857.72,781.26H862.70M867.67,778.69V781.26M867.67,781.26H872.65M877.62,778.69V781.26M872.65,781.26H877.62M882.59,778.69V781.26M892.54,778.69V781.26M897.52,778.69V781.26M892.54,781.26H897.52M907.46,778.69V781.26M912.44,778.69V781.26M917.41,778.69V781.26M952.23,778.69V781.26M957.21,778.69V781.26M962.18,778.69V781.26M957.21,781.26H962.18M987.05,778.69V781.26M415.02,781.26V783.82M419.99,781.26V783.82M484.66,781.26V783.82M494.61,781.26V783.82M504.55,781.26V783.82M514.50,781.26V783.82M519.48,781.26V783.82M534.40,781.26V783.82M539.37,781.26V783.82M549.32,781.26V783.82M554.30,781.26V783.82M569.22,781.26V783.82M579.17,781.26V783.82M584.14,781.26V783.82M589.12,781.26V783.82M678.65,781.26V783.82M683.63,781.26V783.82M693.57,781.26V783.82M698.55,781.26V783.82M788.08,781.26V783.82M793.06,781.26V783.82M798.03,781.26V783.82M793.06,783.82H798.03M807.98,781.26V783.82M817.93,781.26V783.82M832.85,781.26V783.82M837.83,781.26V783.82M847.77,781.26V783.82M857.72,781.26V783.82M862.70,781.26V783.82M867.67,781.26V783.82M877.62,781.26V783.82M882.59,781.26V783.82M907.46,781.26V783.82M912.44,781.26V783.82M917.41,781.26V783.82M952.23,781.26V783.82M957.21,781.26V783.82M987.05,781.26V783.82M415.02,783.82V786.39M419.99,783.82V786.39M484.66,783.82V786.39M484.66,786.39H489.63M494.61,783.82V786.39M489.63,786.39H494.61M504.55,783.82V786.39M514.50,783.82V786.39M519.48,783.82V786.39M534.40,783.82V786.39M529.43,786.39H534.40M539.37,783.82V786.39M539.37,786.39H544.35M549.32,783.82V786.39M544.35,786.39H549.32M554.30,783.82V786.39M569.22,783.82V786.39M579.17,783.82V786.39M584.14,783.82V786.39M589.12,783.82V786.39M599.06,786.39H604.04M678.65,783.82V786.39M683.63,783.82V786.39M693.57,783.82V786.39M698.55,783.82V786.39M778.14,786.39H783.11M788.08,783.82V786.39M783.11,786.39H788.08M807.98,783.82V786.39M807.98,786.39H812.95M817.93,783.82V786.39M812.95,786.39H817.93M832.85,783.82V786.39M837.83,783.82V786.39M847.77,783.82V786.39M857.72,783.82V786.39M862.70,783.82V786.39M867.67,783.82V786.39M877.62,783.82V786.39M882.59,783.82V786.39M907.46,783.82V786.39M912.44,783.82V786.39M917.41,783.82V786.39M952.23,783.82V786.39M957.21,783.82V786.39M987.05,783.82V786.39M415.02,786.39V788.96M419.99,786.39V788.96M504.55,786.39V788.96M504.55,788.96H509.53M514.50,786.39V788.96M509.53,788.96H514.50M519.48,786.39V788.96M519.48,788.96H524.45M529.43,786.39V788.96M524.45,788.96H529.43M554.30,786.39V788.96M554.30,788.96H559.27M559.27,788.96H564.25M569.22,786.39V788.96M564.25,788.96H569.22M579.17,786.39V788.96M584.14,786.39V788.96M579.17,788.96H584.14M589.12,786.39V788.96M589.12,788.96H594.09M599.06,786.39V788.96M594.09,788.96H599.06M604.04,786.39V788.96M604.04,788.96H609.01M609.01,788.96H613.99M613.99,788.96H618.96M618.96,788.96H623.94M623.94,788.96H628.91M628.91,788.96H633.88M633.88,788.96H638.86M638.86,788.96H643.83M643.83,788.96H648.81M648.81,788.96H653.78M653.78,788.96H658.75M658.75,788.96H663.73M663.73,788.96H668.70M668.70,788.96H673.68M678.65,786.39V788.96M673.68,788.96H678.65M683.63,786.39V788.96M683.63,788.96H688.60M693.57,786.39V788.96M688.60,788.96H693.57M698.55,786.39V788.96M693.57,788.96H698.55M698.55,788.96H703.52M703.52,788.96H708.50M708.50,788.96H713.47M713.47,788.96H718.45M718.45,788.96H723.42M723.42,788.96H728.39M728.39,788.96H733.37M733.37,788.96H738.34M738.34,788.96H743.32M743.32,788.96H748.29M748.29,788.96H753.26M753.26,788.96H758.24M758.24,788.96H763.21M763.21,788.96H768.19M768.19,788.96H773.16M778.14,786.39V788.96M773.16,788.96H778.14M832.85,786.39V788.96M837.83,786.39V788.96M847.77,786.39V788.96M847.77,788.96H852.75M857.72,786.39V788.96M852.75,788.96H857.72M862.70,786.39V788.96M867.67,786.39V788.96M877.62,786.39V788.96M882.59,786.39V788.96M907.46,786.39V788.96M912.44,786.39V788.96M917.41,786.39V788.96M912.44,788.96H917.41M952.23,786.39V788.96M957.21,786.39V788.96M987.05,786.39V788.96M415.02,788.96V791.53M419.99,788.96V791.53M832.85,788.96V791.53M837.83,788.96V791.53M862.70,788.96V791.53M867.67,788.96V791.53M877.62,788.96V791.53M882.59,788.96V791.53M907.46,788.96V791.53M912.44,788.96V791.53M952.23,788.96V791.53M957.21,788.96V791.53M987.05,788.96V791.53M415.02,791.53V794.10M419.99,791.53V794.10M832.85,791.53V794.10M837.83,791.53V794.10M862.70,791.53V794.10M867.67,791.53V794.10M877.62,791.53V794.10M882.59,791.53V794.10M907.46,791.53V794.10M912.44,791.53V794.10M952.23,791.53V794.10M957.21,791.53V794.10M987.05,791.53V794.10" fill="none" stroke="#fff" stroke-opacity="0.3" stroke-width="0.8"/>
<rect x="375.23" y="711" width="622.27" height="84" fill="#000" fill-opacity="0.34"/>
<rect x="222.5" y="732.5" width="5" height="42" rx="1.2" fill="#fff" stroke="#3a3a3a" stroke-width="1.1"/>
<rect x="373.5" y="732.5" width="5" height="42" rx="1.2" fill="#fff" stroke="#3a3a3a" stroke-width="1.1"/>
<defs>
<linearGradient id="lg0" x1="0" y1="0" x2="1" y2="0"><stop offset="0" stop-color="#0d0887"/><stop offset="1" stop-color="#6001a6"/></linearGradient>
<linearGradient id="lg1" x1="0" y1="0" x2="1" y2="0"><stop offset="0" stop-color="#8f0da4"/><stop offset="1" stop-color="#bf3984"/></linearGradient>
<linearGradient id="lg2" x1="0" y1="0" x2="1" y2="0"><stop offset="0" stop-color="#d6556d"/><stop offset="1" stop-color="#f2844b"/></linearGradient>
<linearGradient id="lg3" x1="0" y1="0" x2="1" y2="0"><stop offset="0" stop-color="#feba2c"/><stop offset="1" stop-color="#f0f921"/></linearGradient>
</defs>
<g font-size="10.5" fill="#444">
<rect x="231" y="864.5" width="33" height="6.8" fill="url(#lg0)"/>
<text x="270.6" y="870.9" textLength="16.4" lengthAdjust="spacingAndGlyphs">low</text>
<rect x="298.4" y="864.5" width="33" height="6.8" fill="url(#lg1)"/>
<text x="337.7" y="870.9" textLength="39.4" lengthAdjust="spacingAndGlyphs">medium</text>
<rect x="388.7" y="864.5" width="33" height="6.8" fill="url(#lg2)"/>
<text x="427.3" y="870.9" textLength="63.4" lengthAdjust="spacingAndGlyphs">medium high</text>
<rect x="503.5" y="864.5" width="33" height="6.8" fill="url(#lg3)"/>
<text x="542.3" y="870.9" textLength="20.9" lengthAdjust="spacingAndGlyphs">high</text>
</g>
<g>
<rect x="712" y="1.3" width="17" height="10.8" rx="1.6" fill="#c8c8c8"/><rect x="717.2" y="-0.5" width="7" height="2.5" rx="0.8" fill="#c8c8c8"/><circle cx="720.6" cy="6.3" r="4.4" fill="#fff"/><circle cx="720.6" cy="6.3" r="3.1" fill="#c8c8c8"/><circle cx="726.4" cy="3.3" r="0.7" fill="#fff"/>
<circle cx="754.6" cy="4.2" r="6.2" fill="none" stroke="#6e6e6e" stroke-width="2.6"/><rect x="750.6" y="0.2" width="8" height="8" fill="#d8d8d8"/><rect x="751.9" y="1.5" width="5.4" height="5.4" fill="#6e6e6e"/><line x1="759" y1="8.6" x2="764" y2="13.2" stroke="#6e6e6e" stroke-width="3" stroke-linecap="round"/>
<g fill="#c8c8c8"><rect x="775" y="4.6" width="13" height="1.6"/><rect x="780.5" y="1" width="1.6" height="11"/><path d="M773,5.4 L776.5,2.4 V8.4 Z M789.6,5.4 L786.1,2.4 V8.4 Z M781.3,13.8 L778.3,10.3 H784.3 Z M781.3,-1 L778.3,2.5 H784.3 Z"/></g>
<rect x="810.2" y="-1" width="14.6" height="13.9" fill="#c8c8c8"/><rect x="812.9" y="4.5" width="9.2" height="2.2" fill="#fff"/><rect x="816.4" y="1" width="2.2" height="9.2" fill="#fff"/>
<rect x="835.3" y="-1" width="15.5" height="13.9" fill="#c8c8c8"/><rect x="838.5" y="4.5" width="9.2" height="2.2" fill="#fff"/>
<g fill="none" stroke="#c8c8c8" stroke-width="1.2"><path d="M860.6,9.5 V13.2 H864.3 M876.4,9.5 V13.2 H872.7 M860.6,3 V0.3 M876.4,3 V0.3"/><path d="M863,2 L874,11 M874,2 L863,11" stroke-width="1.5"/></g><path d="M862.5,7 V11.5 H867 Z M874.5,7 V11.5 H870 Z M862.5,-0.5 V4 H867 Z" fill="#c8c8c8" opacity="0.9"/>
<path d="M886,6.2 L893.9,-1 L901.7,6.2 L900.3,7.6 L899.2,6.6 V11.4 H895.6 V8 H892.2 V11.4 H888.6 V6.6 L887.4,7.6 Z" fill="#c8c8c8"/>
<path d="M923.1,5.4 L926.7,1.1 H939.9 V9.7 H926.7 Z" fill="#787878"/>
<path d="M948,1.9 L950.8,-1 H966 V4.2 H950.8 Z M948,9.2 L950.8,6.5 H966 V11.8 H950.8 Z" fill="#c8c8c8"/>
<rect x="984.2" y="-1" width="17.5" height="14.8" rx="1" fill="#3f4f75"/><g fill="#fff"><rect x="986.3" y="6" width="1.5" height="5.6" rx="0.7"/><rect x="989.6" y="3.2" width="1.5" height="8.4" rx="0.7"/><rect x="992.9" y="6.8" width="1.5" height="4.8" rx="0.7"/><rect x="996.2" y="3.2" width="1.5" height="8.4" rx="0.7"/></g><g fill="#80cfbe"><rect x="986.3" y="0.2" width="1.5" height="1.5"/><rect x="989.6" y="0.2" width="1.5" height="1.5"/><rect x="992.9" y="0.2" width="1.5" height="1.5"/><rect x="996.2" y="0.2" width="1.5" height="1.5"/><rect x="986.3" y="3.2" width="1.5" height="1.5"/><rect x="992.9" y="3.2" width="1.5" height="1.5"/></g>
</g>
</svg></body></html>
